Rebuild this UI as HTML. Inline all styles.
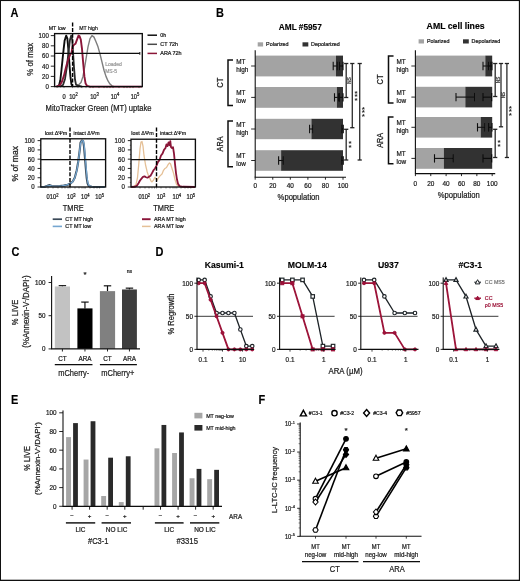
<!DOCTYPE html>
<html><head><meta charset="utf-8"><title>Figure</title>
<style>
html,body{margin:0;padding:0;background:#fff;}
body{width:520px;height:581px;overflow:hidden;position:relative;font-family:'Liberation Sans', sans-serif;}
svg{display:block;position:absolute;left:0;top:0;}
svg text{font-family:"Liberation Sans",sans-serif;}
</style></head><body>
<svg width="520" height="581" viewBox="0 0 520 581">
<defs><filter id="soft" x="0" y="0" width="520" height="581" filterUnits="userSpaceOnUse"><feGaussianBlur stdDeviation="0.38"/></filter></defs>
<rect x="0" y="0" width="520" height="581" fill="#ffffff"/>
<g filter="url(#soft)">
<text transform="translate(10.50,16.90) scale(0.9,1)" font-size="12.2" text-anchor="start" font-weight="bold" fill="#000" stroke="#000" stroke-width="0.15" >A</text>
<text transform="translate(216.00,16.80) scale(0.9,1)" font-size="12.2" text-anchor="start" font-weight="bold" fill="#000" stroke="#000" stroke-width="0.15" >B</text>
<text transform="translate(11.50,256.00) scale(0.9,1)" font-size="12.2" text-anchor="start" font-weight="bold" fill="#000" stroke="#000" stroke-width="0.15" >C</text>
<text transform="translate(155.50,256.00) scale(0.9,1)" font-size="12.2" text-anchor="start" font-weight="bold" fill="#000" stroke="#000" stroke-width="0.15" >D</text>
<text transform="translate(11.00,404.30) scale(0.9,1)" font-size="12.2" text-anchor="start" font-weight="bold" fill="#000" stroke="#000" stroke-width="0.15" >E</text>
<text transform="translate(258.50,404.30) scale(0.9,1)" font-size="12.2" text-anchor="start" font-weight="bold" fill="#000" stroke="#000" stroke-width="0.15" >F</text>
<polyline points="74.00,86.60 78.00,85.58 81.00,82.52 83.00,76.40 85.00,65.18 86.50,56.00 88.00,46.82 90.00,38.66 92.00,35.60 94.00,37.13 96.00,41.72 98.00,46.82 100.00,53.96 102.00,62.12 104.00,70.28 106.00,76.40 108.00,80.99 110.00,84.05 112.00,85.83 114.00,86.60" fill="none" stroke="#7d7d7d" stroke-width="1.4" stroke-linejoin="round" />
<polyline points="57.00,86.60 59.00,85.58 60.30,80.48 61.60,68.75 63.00,54.98 64.60,40.70 66.20,35.60 67.40,38.66 68.40,49.88 69.40,63.65 70.40,76.40 71.40,84.05 72.60,86.60" fill="none" stroke="#111" stroke-width="1.9" stroke-linejoin="round" />
<polyline points="60.00,86.60 63.00,85.07 65.00,78.95 67.00,66.20 68.50,51.92 70.00,39.68 71.20,35.60 72.20,39.68 73.00,51.92 74.00,67.22 75.00,79.46 76.00,84.56 78.00,85.58 82.00,86.60" fill="none" stroke="#2a2a2a" stroke-width="1.8" stroke-linejoin="round" />
<polyline points="56.00,86.60 58.00,86.09 60.00,85.07 62.00,81.50 64.00,75.38 66.00,67.22 68.00,60.08 70.00,54.98 71.50,52.94 72.50,46.82 74.00,44.78 75.50,43.76 77.00,39.68 78.50,35.60 79.50,36.11 80.80,39.68 82.00,48.86 83.20,63.14 84.40,76.40 85.60,83.54 87.00,85.83 90.00,86.60 142.00,86.60" fill="none" stroke="#8a1538" stroke-width="1.9" stroke-linejoin="round" />
<rect x="54.6" y="33.6" width="87.70000000000002" height="52.99999999999999" fill="none" stroke="#111" stroke-width="1.35"/>
<line x1="54.60" y1="53.40" x2="139.80" y2="53.40" stroke="#111" stroke-width="1.25" />
<line x1="139.80" y1="52.00" x2="139.80" y2="54.80" stroke="#111" stroke-width="1.0" />
<line x1="72.60" y1="22.50" x2="72.60" y2="86.60" stroke="#000" stroke-width="1.4" stroke-dasharray="4 1.6"/>
<text transform="translate(57.20,29.60)" font-size="5.6" text-anchor="middle" font-weight="normal" fill="#1a1a1a" stroke="#1a1a1a" stroke-width="0.22" textLength="17" lengthAdjust="spacingAndGlyphs" >MT low</text>
<text transform="translate(88.50,29.60)" font-size="5.6" text-anchor="middle" font-weight="normal" fill="#1a1a1a" stroke="#1a1a1a" stroke-width="0.22" textLength="18.5" lengthAdjust="spacingAndGlyphs" >MT high</text>
<line x1="50.80" y1="86.60" x2="54.60" y2="86.60" stroke="#111" stroke-width="0.9" />
<text transform="translate(48.80,89.00) scale(0.9,1)" font-size="6.8" text-anchor="end" font-weight="normal" fill="#1a1a1a" stroke="#1a1a1a" stroke-width="0.22" >0</text>
<line x1="50.80" y1="76.40" x2="54.60" y2="76.40" stroke="#111" stroke-width="0.9" />
<text transform="translate(48.80,78.80) scale(0.9,1)" font-size="6.8" text-anchor="end" font-weight="normal" fill="#1a1a1a" stroke="#1a1a1a" stroke-width="0.22" >20</text>
<line x1="50.80" y1="66.20" x2="54.60" y2="66.20" stroke="#111" stroke-width="0.9" />
<text transform="translate(48.80,68.60) scale(0.9,1)" font-size="6.8" text-anchor="end" font-weight="normal" fill="#1a1a1a" stroke="#1a1a1a" stroke-width="0.22" >40</text>
<line x1="50.80" y1="56.00" x2="54.60" y2="56.00" stroke="#111" stroke-width="0.9" />
<text transform="translate(48.80,58.40) scale(0.9,1)" font-size="6.8" text-anchor="end" font-weight="normal" fill="#1a1a1a" stroke="#1a1a1a" stroke-width="0.22" >60</text>
<line x1="50.80" y1="45.80" x2="54.60" y2="45.80" stroke="#111" stroke-width="0.9" />
<text transform="translate(48.80,48.20) scale(0.9,1)" font-size="6.8" text-anchor="end" font-weight="normal" fill="#1a1a1a" stroke="#1a1a1a" stroke-width="0.22" >80</text>
<line x1="50.80" y1="35.60" x2="54.60" y2="35.60" stroke="#111" stroke-width="0.9" />
<text transform="translate(48.80,38.00) scale(0.9,1)" font-size="6.8" text-anchor="end" font-weight="normal" fill="#1a1a1a" stroke="#1a1a1a" stroke-width="0.22" >100</text>
<text transform="translate(64.00,98.60) scale(0.86,1)" font-size="6.7" text-anchor="middle" font-weight="normal" fill="#1a1a1a" stroke="#1a1a1a" stroke-width="0.22" >0</text>
<text transform="translate(73.50,98.60) scale(0.86,1)" font-size="6.7" text-anchor="middle" font-weight="normal" fill="#1a1a1a" stroke="#1a1a1a" stroke-width="0.22" >10<tspan dy="-2.5" font-size="0.72em">2</tspan></text>
<text transform="translate(94.50,98.60) scale(0.86,1)" font-size="6.7" text-anchor="middle" font-weight="normal" fill="#1a1a1a" stroke="#1a1a1a" stroke-width="0.22" >10<tspan dy="-2.5" font-size="0.72em">3</tspan></text>
<text transform="translate(115.00,98.60) scale(0.86,1)" font-size="6.7" text-anchor="middle" font-weight="normal" fill="#1a1a1a" stroke="#1a1a1a" stroke-width="0.22" >10<tspan dy="-2.5" font-size="0.72em">4</tspan></text>
<text transform="translate(135.00,98.60) scale(0.86,1)" font-size="6.7" text-anchor="middle" font-weight="normal" fill="#1a1a1a" stroke="#1a1a1a" stroke-width="0.22" >10<tspan dy="-2.5" font-size="0.72em">5</tspan></text>
<line x1="64.00" y1="86.60" x2="64.00" y2="88.10" stroke="#111" stroke-width="0.5" />
<line x1="72.60" y1="86.60" x2="72.60" y2="88.10" stroke="#111" stroke-width="0.5" />
<line x1="78.00" y1="86.60" x2="78.00" y2="88.10" stroke="#111" stroke-width="0.5" />
<line x1="82.00" y1="86.60" x2="82.00" y2="88.10" stroke="#111" stroke-width="0.5" />
<line x1="86.00" y1="86.60" x2="86.00" y2="88.10" stroke="#111" stroke-width="0.5" />
<line x1="90.00" y1="86.60" x2="90.00" y2="88.10" stroke="#111" stroke-width="0.5" />
<line x1="93.00" y1="86.60" x2="93.00" y2="88.10" stroke="#111" stroke-width="0.5" />
<line x1="99.00" y1="86.60" x2="99.00" y2="88.10" stroke="#111" stroke-width="0.5" />
<line x1="104.00" y1="86.60" x2="104.00" y2="88.10" stroke="#111" stroke-width="0.5" />
<line x1="107.00" y1="86.60" x2="107.00" y2="88.10" stroke="#111" stroke-width="0.5" />
<line x1="110.00" y1="86.60" x2="110.00" y2="88.10" stroke="#111" stroke-width="0.5" />
<line x1="113.00" y1="86.60" x2="113.00" y2="88.10" stroke="#111" stroke-width="0.5" />
<line x1="119.00" y1="86.60" x2="119.00" y2="88.10" stroke="#111" stroke-width="0.5" />
<line x1="124.00" y1="86.60" x2="124.00" y2="88.10" stroke="#111" stroke-width="0.5" />
<line x1="127.00" y1="86.60" x2="127.00" y2="88.10" stroke="#111" stroke-width="0.5" />
<line x1="130.00" y1="86.60" x2="130.00" y2="88.10" stroke="#111" stroke-width="0.5" />
<line x1="133.00" y1="86.60" x2="133.00" y2="88.10" stroke="#111" stroke-width="0.5" />
<line x1="139.00" y1="86.60" x2="139.00" y2="88.10" stroke="#111" stroke-width="0.5" />
<text transform="translate(98.60,111.00)" font-size="8.8" text-anchor="middle" font-weight="normal" fill="#1a1a1a" stroke="#1a1a1a" stroke-width="0.22" textLength="106" lengthAdjust="spacingAndGlyphs" >MitoTracker Green (MT) uptake</text>
<text transform="translate(32.80,59.30) rotate(-90)" font-size="8.6" text-anchor="middle" font-weight="normal" fill="#1a1a1a" stroke="#1a1a1a" stroke-width="0.22" textLength="33" lengthAdjust="spacingAndGlyphs" >% of max</text>
<text transform="translate(105.20,66.30)" font-size="5" text-anchor="start" font-weight="normal" fill="#9a9a9a" stroke="#9a9a9a" stroke-width="0.22" >Loaded</text>
<text transform="translate(105.20,72.60)" font-size="5" text-anchor="start" font-weight="normal" fill="#9a9a9a" stroke="#9a9a9a" stroke-width="0.22" >MS-5</text>
<line x1="147.50" y1="35.20" x2="157.00" y2="35.20" stroke="#111" stroke-width="1.5" />
<text transform="translate(160.30,37.10)" font-size="5.4" text-anchor="start" font-weight="normal" fill="#1a1a1a" stroke="#1a1a1a" stroke-width="0.22" >0h</text>
<line x1="147.50" y1="44.30" x2="157.00" y2="44.30" stroke="#4a4a4a" stroke-width="1.5" />
<text transform="translate(160.30,46.20)" font-size="5.4" text-anchor="start" font-weight="normal" fill="#1a1a1a" stroke="#1a1a1a" stroke-width="0.22" >CT 72h</text>
<line x1="147.50" y1="53.40" x2="157.00" y2="53.40" stroke="#8a1538" stroke-width="1.5" />
<text transform="translate(160.30,55.30)" font-size="5.4" text-anchor="start" font-weight="normal" fill="#1a1a1a" stroke="#1a1a1a" stroke-width="0.22" >ARA 72h</text>
<polyline points="40.75,187.00 44.75,186.77 47.75,185.61 49.75,185.14 51.75,186.07 55.75,186.30 59.75,186.07 63.75,185.61 67.75,184.68 70.75,183.29 72.75,181.43 74.75,177.72 76.75,170.30 78.25,161.48 79.75,149.88 80.55,142.46 81.75,140.60 83.15,141.06 83.95,146.17 84.85,156.38 85.75,167.51 86.65,177.72 87.55,183.29 88.75,186.07 91.75,186.77 104.75,187.00" fill="none" stroke="#3b4a58" stroke-width="2.1" stroke-linejoin="round" />
<polyline points="41.00,187.00 45.00,186.54 48.00,185.84 50.00,185.61 53.00,186.30 58.00,186.30 62.00,185.84 66.00,185.14 70.00,183.75 72.50,181.90 74.50,178.65 76.50,172.15 78.00,163.80 79.30,153.59 80.40,144.31 81.60,141.06 83.20,140.60 84.20,145.24 85.20,155.45 86.10,166.58 87.00,176.79 87.90,182.82 89.20,185.84 93.00,186.77 105.00,187.00" fill="none" stroke="#74a6d0" stroke-width="1.25" stroke-linejoin="round" />
<rect x="40.8" y="138.8" width="64.8" height="48.19999999999999" fill="none" stroke="#111" stroke-width="1.35"/>
<line x1="40.80" y1="159.60" x2="105.60" y2="159.60" stroke="#111" stroke-width="1.25" />
<line x1="70.00" y1="127.50" x2="70.00" y2="187.00" stroke="#000" stroke-width="1.4" stroke-dasharray="4 1.6"/>
<line x1="37.60" y1="187.00" x2="40.80" y2="187.00" stroke="#111" stroke-width="0.9" />
<text transform="translate(34.60,189.40) scale(0.9,1)" font-size="6.8" text-anchor="end" font-weight="normal" fill="#1a1a1a" stroke="#1a1a1a" stroke-width="0.22" >0</text>
<line x1="37.60" y1="177.72" x2="40.80" y2="177.72" stroke="#111" stroke-width="0.9" />
<text transform="translate(34.60,180.12) scale(0.9,1)" font-size="6.8" text-anchor="end" font-weight="normal" fill="#1a1a1a" stroke="#1a1a1a" stroke-width="0.22" >20</text>
<line x1="37.60" y1="168.44" x2="40.80" y2="168.44" stroke="#111" stroke-width="0.9" />
<text transform="translate(34.60,170.84) scale(0.9,1)" font-size="6.8" text-anchor="end" font-weight="normal" fill="#1a1a1a" stroke="#1a1a1a" stroke-width="0.22" >40</text>
<line x1="37.60" y1="159.16" x2="40.80" y2="159.16" stroke="#111" stroke-width="0.9" />
<text transform="translate(34.60,161.56) scale(0.9,1)" font-size="6.8" text-anchor="end" font-weight="normal" fill="#1a1a1a" stroke="#1a1a1a" stroke-width="0.22" >60</text>
<line x1="37.60" y1="149.88" x2="40.80" y2="149.88" stroke="#111" stroke-width="0.9" />
<text transform="translate(34.60,152.28) scale(0.9,1)" font-size="6.8" text-anchor="end" font-weight="normal" fill="#1a1a1a" stroke="#1a1a1a" stroke-width="0.22" >80</text>
<line x1="37.60" y1="140.60" x2="40.80" y2="140.60" stroke="#111" stroke-width="0.9" />
<text transform="translate(34.60,143.00) scale(0.9,1)" font-size="6.8" text-anchor="end" font-weight="normal" fill="#1a1a1a" stroke="#1a1a1a" stroke-width="0.22" >100</text>
<line x1="39.60" y1="182.36" x2="40.80" y2="182.36" stroke="#111" stroke-width="0.5" />
<line x1="39.60" y1="173.08" x2="40.80" y2="173.08" stroke="#111" stroke-width="0.5" />
<line x1="39.60" y1="163.80" x2="40.80" y2="163.80" stroke="#111" stroke-width="0.5" />
<line x1="39.60" y1="154.52" x2="40.80" y2="154.52" stroke="#111" stroke-width="0.5" />
<line x1="39.60" y1="145.24" x2="40.80" y2="145.24" stroke="#111" stroke-width="0.5" />
<text transform="translate(48.00,199.40) scale(0.86,1)" font-size="6.7" text-anchor="middle" font-weight="normal" fill="#1a1a1a" stroke="#1a1a1a" stroke-width="0.22" >0</text>
<text transform="translate(54.20,199.40) scale(0.86,1)" font-size="6.7" text-anchor="middle" font-weight="normal" fill="#1a1a1a" stroke="#1a1a1a" stroke-width="0.22" >10<tspan dy="-2.5" font-size="0.72em">2</tspan></text>
<text transform="translate(71.30,199.40) scale(0.86,1)" font-size="6.7" text-anchor="middle" font-weight="normal" fill="#1a1a1a" stroke="#1a1a1a" stroke-width="0.22" >10<tspan dy="-2.5" font-size="0.72em">3</tspan></text>
<text transform="translate(85.30,199.40) scale(0.86,1)" font-size="6.7" text-anchor="middle" font-weight="normal" fill="#1a1a1a" stroke="#1a1a1a" stroke-width="0.22" >10<tspan dy="-2.5" font-size="0.72em">4</tspan></text>
<text transform="translate(99.60,199.40) scale(0.86,1)" font-size="6.7" text-anchor="middle" font-weight="normal" fill="#1a1a1a" stroke="#1a1a1a" stroke-width="0.22" >10<tspan dy="-2.5" font-size="0.72em">5</tspan></text>
<line x1="48.00" y1="187.00" x2="48.00" y2="188.50" stroke="#111" stroke-width="0.5" />
<line x1="53.00" y1="187.00" x2="53.00" y2="188.50" stroke="#111" stroke-width="0.5" />
<line x1="58.00" y1="187.00" x2="58.00" y2="188.50" stroke="#111" stroke-width="0.5" />
<line x1="62.00" y1="187.00" x2="62.00" y2="188.50" stroke="#111" stroke-width="0.5" />
<line x1="65.00" y1="187.00" x2="65.00" y2="188.50" stroke="#111" stroke-width="0.5" />
<line x1="68.00" y1="187.00" x2="68.00" y2="188.50" stroke="#111" stroke-width="0.5" />
<line x1="70.00" y1="187.00" x2="70.00" y2="188.50" stroke="#111" stroke-width="0.5" />
<line x1="75.00" y1="187.00" x2="75.00" y2="188.50" stroke="#111" stroke-width="0.5" />
<line x1="79.00" y1="187.00" x2="79.00" y2="188.50" stroke="#111" stroke-width="0.5" />
<line x1="82.00" y1="187.00" x2="82.00" y2="188.50" stroke="#111" stroke-width="0.5" />
<line x1="84.00" y1="187.00" x2="84.00" y2="188.50" stroke="#111" stroke-width="0.5" />
<line x1="85.30" y1="187.00" x2="85.30" y2="188.50" stroke="#111" stroke-width="0.5" />
<line x1="90.00" y1="187.00" x2="90.00" y2="188.50" stroke="#111" stroke-width="0.5" />
<line x1="94.00" y1="187.00" x2="94.00" y2="188.50" stroke="#111" stroke-width="0.5" />
<line x1="97.00" y1="187.00" x2="97.00" y2="188.50" stroke="#111" stroke-width="0.5" />
<line x1="99.60" y1="187.00" x2="99.60" y2="188.50" stroke="#111" stroke-width="0.5" />
<text transform="translate(73.20,211.20)" font-size="8.8" text-anchor="middle" font-weight="normal" fill="#1a1a1a" stroke="#1a1a1a" stroke-width="0.22" textLength="21" lengthAdjust="spacingAndGlyphs" >TMRE</text>
<text transform="translate(56.00,135.00)" font-size="5.2" text-anchor="middle" font-weight="normal" fill="#1a1a1a" stroke="#1a1a1a" stroke-width="0.22" textLength="22.5" lengthAdjust="spacingAndGlyphs" >lost ΔΨm</text>
<text transform="translate(86.50,135.00)" font-size="5.2" text-anchor="middle" font-weight="normal" fill="#1a1a1a" stroke="#1a1a1a" stroke-width="0.22" textLength="26" lengthAdjust="spacingAndGlyphs" >intact ΔΨm</text>
<text transform="translate(18.00,163.80) rotate(-90)" font-size="8.6" text-anchor="middle" font-weight="normal" fill="#1a1a1a" stroke="#1a1a1a" stroke-width="0.22" textLength="35.5" lengthAdjust="spacingAndGlyphs" >% of max</text>
<line x1="52.70" y1="219.20" x2="62.00" y2="219.20" stroke="#3b4a58" stroke-width="1.7" />
<text transform="translate(65.30,221.10)" font-size="5.4" text-anchor="start" font-weight="normal" fill="#1a1a1a" stroke="#1a1a1a" stroke-width="0.22" >CT MT high</text>
<line x1="52.70" y1="226.40" x2="62.00" y2="226.40" stroke="#74a6d0" stroke-width="1.6" />
<text transform="translate(65.30,228.30)" font-size="5.4" text-anchor="start" font-weight="normal" fill="#1a1a1a" stroke="#1a1a1a" stroke-width="0.22" >CT MT low</text>
<polyline points="131.00,187.00 134.00,186.54 136.00,184.68 137.50,177.72 138.80,163.80 140.00,148.95 141.00,141.99 142.00,141.53 143.00,146.17 144.00,155.45 145.50,164.73 147.00,171.22 148.50,175.86 150.00,178.65 151.00,180.97 152.00,181.90 153.50,180.04 155.00,177.26 156.00,178.65 157.00,180.50 158.50,177.72 160.00,175.86 162.00,174.01 163.50,170.30 165.00,168.44 166.50,167.51 168.00,164.73 169.50,162.87 170.50,163.80 172.00,168.44 173.50,173.08 175.00,179.58 176.50,184.22 178.00,186.07 181.00,186.54 186.00,186.77 195.00,187.00" fill="none" stroke="#e5c097" stroke-width="1.3" stroke-linejoin="round" />
<polyline points="131.00,187.00 135.00,186.77 137.00,185.61 138.50,183.29 140.00,180.50 141.50,178.65 143.00,176.79 144.50,176.33 146.00,177.26 147.50,177.72 149.00,176.79 150.50,175.86 152.00,173.08 153.50,170.30 155.00,168.44 156.50,165.66 158.00,161.94 159.50,160.09 161.00,155.45 162.50,153.59 164.00,149.88 165.50,148.02 166.50,144.31 167.50,146.17 168.50,142.46 169.50,145.24 170.30,141.06 171.00,147.10 172.00,148.02 173.00,147.10 174.00,153.59 175.00,163.80 176.00,173.08 177.00,179.58 178.00,183.75 179.50,186.07 183.00,186.77 195.00,187.00" fill="none" stroke="#8a1538" stroke-width="1.8" stroke-linejoin="round" />
<rect x="131.0" y="139.2" width="64.4" height="47.80000000000001" fill="none" stroke="#111" stroke-width="1.35"/>
<line x1="131.00" y1="159.60" x2="195.40" y2="159.60" stroke="#111" stroke-width="1.25" />
<line x1="156.50" y1="127.50" x2="156.50" y2="187.00" stroke="#000" stroke-width="1.4" stroke-dasharray="4 1.6"/>
<line x1="127.80" y1="187.00" x2="131.00" y2="187.00" stroke="#111" stroke-width="0.9" />
<text transform="translate(124.80,189.40) scale(0.9,1)" font-size="6.8" text-anchor="end" font-weight="normal" fill="#1a1a1a" stroke="#1a1a1a" stroke-width="0.22" >0</text>
<line x1="127.80" y1="177.72" x2="131.00" y2="177.72" stroke="#111" stroke-width="0.9" />
<text transform="translate(124.80,180.12) scale(0.9,1)" font-size="6.8" text-anchor="end" font-weight="normal" fill="#1a1a1a" stroke="#1a1a1a" stroke-width="0.22" >20</text>
<line x1="127.80" y1="168.44" x2="131.00" y2="168.44" stroke="#111" stroke-width="0.9" />
<text transform="translate(124.80,170.84) scale(0.9,1)" font-size="6.8" text-anchor="end" font-weight="normal" fill="#1a1a1a" stroke="#1a1a1a" stroke-width="0.22" >40</text>
<line x1="127.80" y1="159.16" x2="131.00" y2="159.16" stroke="#111" stroke-width="0.9" />
<text transform="translate(124.80,161.56) scale(0.9,1)" font-size="6.8" text-anchor="end" font-weight="normal" fill="#1a1a1a" stroke="#1a1a1a" stroke-width="0.22" >60</text>
<line x1="127.80" y1="149.88" x2="131.00" y2="149.88" stroke="#111" stroke-width="0.9" />
<text transform="translate(124.80,152.28) scale(0.9,1)" font-size="6.8" text-anchor="end" font-weight="normal" fill="#1a1a1a" stroke="#1a1a1a" stroke-width="0.22" >80</text>
<line x1="127.80" y1="140.60" x2="131.00" y2="140.60" stroke="#111" stroke-width="0.9" />
<text transform="translate(124.80,143.00) scale(0.9,1)" font-size="6.8" text-anchor="end" font-weight="normal" fill="#1a1a1a" stroke="#1a1a1a" stroke-width="0.22" >100</text>
<line x1="129.80" y1="182.36" x2="131.00" y2="182.36" stroke="#111" stroke-width="0.5" />
<line x1="129.80" y1="173.08" x2="131.00" y2="173.08" stroke="#111" stroke-width="0.5" />
<line x1="129.80" y1="163.80" x2="131.00" y2="163.80" stroke="#111" stroke-width="0.5" />
<line x1="129.80" y1="154.52" x2="131.00" y2="154.52" stroke="#111" stroke-width="0.5" />
<line x1="129.80" y1="145.24" x2="131.00" y2="145.24" stroke="#111" stroke-width="0.5" />
<text transform="translate(140.00,199.40) scale(0.86,1)" font-size="6.7" text-anchor="middle" font-weight="normal" fill="#1a1a1a" stroke="#1a1a1a" stroke-width="0.22" >0</text>
<text transform="translate(145.80,199.40) scale(0.86,1)" font-size="6.7" text-anchor="middle" font-weight="normal" fill="#1a1a1a" stroke="#1a1a1a" stroke-width="0.22" >10<tspan dy="-2.5" font-size="0.72em">2</tspan></text>
<text transform="translate(161.00,199.40) scale(0.86,1)" font-size="6.7" text-anchor="middle" font-weight="normal" fill="#1a1a1a" stroke="#1a1a1a" stroke-width="0.22" >10<tspan dy="-2.5" font-size="0.72em">3</tspan></text>
<text transform="translate(176.80,199.40) scale(0.86,1)" font-size="6.7" text-anchor="middle" font-weight="normal" fill="#1a1a1a" stroke="#1a1a1a" stroke-width="0.22" >10<tspan dy="-2.5" font-size="0.72em">4</tspan></text>
<text transform="translate(190.80,199.40) scale(0.86,1)" font-size="6.7" text-anchor="middle" font-weight="normal" fill="#1a1a1a" stroke="#1a1a1a" stroke-width="0.22" >10<tspan dy="-2.5" font-size="0.72em">5</tspan></text>
<line x1="140.00" y1="187.00" x2="140.00" y2="188.50" stroke="#111" stroke-width="0.5" />
<line x1="145.00" y1="187.00" x2="145.00" y2="188.50" stroke="#111" stroke-width="0.5" />
<line x1="149.00" y1="187.00" x2="149.00" y2="188.50" stroke="#111" stroke-width="0.5" />
<line x1="152.00" y1="187.00" x2="152.00" y2="188.50" stroke="#111" stroke-width="0.5" />
<line x1="154.50" y1="187.00" x2="154.50" y2="188.50" stroke="#111" stroke-width="0.5" />
<line x1="156.50" y1="187.00" x2="156.50" y2="188.50" stroke="#111" stroke-width="0.5" />
<line x1="161.00" y1="187.00" x2="161.00" y2="188.50" stroke="#111" stroke-width="0.5" />
<line x1="166.00" y1="187.00" x2="166.00" y2="188.50" stroke="#111" stroke-width="0.5" />
<line x1="170.00" y1="187.00" x2="170.00" y2="188.50" stroke="#111" stroke-width="0.5" />
<line x1="173.00" y1="187.00" x2="173.00" y2="188.50" stroke="#111" stroke-width="0.5" />
<line x1="175.00" y1="187.00" x2="175.00" y2="188.50" stroke="#111" stroke-width="0.5" />
<line x1="176.80" y1="187.00" x2="176.80" y2="188.50" stroke="#111" stroke-width="0.5" />
<line x1="181.00" y1="187.00" x2="181.00" y2="188.50" stroke="#111" stroke-width="0.5" />
<line x1="185.00" y1="187.00" x2="185.00" y2="188.50" stroke="#111" stroke-width="0.5" />
<line x1="188.00" y1="187.00" x2="188.00" y2="188.50" stroke="#111" stroke-width="0.5" />
<line x1="190.80" y1="187.00" x2="190.80" y2="188.50" stroke="#111" stroke-width="0.5" />
<text transform="translate(163.80,211.20)" font-size="8.8" text-anchor="middle" font-weight="normal" fill="#1a1a1a" stroke="#1a1a1a" stroke-width="0.22" textLength="21" lengthAdjust="spacingAndGlyphs" >TMRE</text>
<text transform="translate(142.50,135.00)" font-size="5.2" text-anchor="middle" font-weight="normal" fill="#1a1a1a" stroke="#1a1a1a" stroke-width="0.22" textLength="22.5" lengthAdjust="spacingAndGlyphs" >lost ΔΨm</text>
<text transform="translate(173.00,135.00)" font-size="5.2" text-anchor="middle" font-weight="normal" fill="#1a1a1a" stroke="#1a1a1a" stroke-width="0.22" textLength="26" lengthAdjust="spacingAndGlyphs" >intact ΔΨm</text>
<line x1="142.00" y1="219.20" x2="150.60" y2="219.20" stroke="#8a1538" stroke-width="1.9" />
<text transform="translate(154.00,221.10)" font-size="5.4" text-anchor="start" font-weight="normal" fill="#1a1a1a" stroke="#1a1a1a" stroke-width="0.22" >ARA MT high</text>
<line x1="142.00" y1="226.40" x2="150.60" y2="226.40" stroke="#e5c097" stroke-width="1.5" />
<text transform="translate(154.00,228.30)" font-size="5.4" text-anchor="start" font-weight="normal" fill="#1a1a1a" stroke="#1a1a1a" stroke-width="0.22" >ARA MT low</text>
<rect x="255.20" y="55.60" width="80.78" height="20.80" fill="#a3a3a3" />
<rect x="335.98" y="55.60" width="7.02" height="20.80" fill="#333333" />
<line x1="333.20" y1="66.00" x2="337.20" y2="66.00" stroke="#111" stroke-width="1.1" />
<line x1="333.20" y1="61.80" x2="333.20" y2="70.20" stroke="#111" stroke-width="1.1" />
<line x1="337.20" y1="61.80" x2="337.20" y2="70.20" stroke="#111" stroke-width="1.1" />
<line x1="339.50" y1="66.00" x2="343.00" y2="66.00" stroke="#0a0a0a" stroke-width="1.1" />
<line x1="339.50" y1="61.80" x2="339.50" y2="70.20" stroke="#0a0a0a" stroke-width="1.1" />
<line x1="343.00" y1="61.80" x2="343.00" y2="70.20" stroke="#0a0a0a" stroke-width="1.1" />
<line x1="251.20" y1="66.00" x2="255.20" y2="66.00" stroke="#111" stroke-width="0.9" />
<rect x="255.20" y="87.00" width="81.65" height="20.80" fill="#a3a3a3" />
<rect x="336.85" y="87.00" width="6.15" height="20.80" fill="#333333" />
<line x1="334.50" y1="97.40" x2="338.60" y2="97.40" stroke="#111" stroke-width="1.1" />
<line x1="334.50" y1="93.20" x2="334.50" y2="101.60" stroke="#111" stroke-width="1.1" />
<line x1="338.60" y1="93.20" x2="338.60" y2="101.60" stroke="#111" stroke-width="1.1" />
<line x1="339.50" y1="97.40" x2="343.00" y2="97.40" stroke="#0a0a0a" stroke-width="1.1" />
<line x1="339.50" y1="93.20" x2="339.50" y2="101.60" stroke="#0a0a0a" stroke-width="1.1" />
<line x1="343.00" y1="93.20" x2="343.00" y2="101.60" stroke="#0a0a0a" stroke-width="1.1" />
<line x1="251.20" y1="97.40" x2="255.20" y2="97.40" stroke="#111" stroke-width="0.9" />
<rect x="255.20" y="118.80" width="56.19" height="20.40" fill="#a3a3a3" />
<rect x="311.39" y="118.80" width="31.61" height="20.40" fill="#333333" />
<line x1="309.60" y1="129.00" x2="312.60" y2="129.00" stroke="#111" stroke-width="1.1" />
<line x1="309.60" y1="124.80" x2="309.60" y2="133.20" stroke="#111" stroke-width="1.1" />
<line x1="312.60" y1="124.80" x2="312.60" y2="133.20" stroke="#111" stroke-width="1.1" />
<line x1="341.80" y1="129.00" x2="343.30" y2="129.00" stroke="#0a0a0a" stroke-width="1.1" />
<line x1="341.80" y1="124.80" x2="341.80" y2="133.20" stroke="#0a0a0a" stroke-width="1.1" />
<line x1="343.30" y1="124.80" x2="343.30" y2="133.20" stroke="#0a0a0a" stroke-width="1.1" />
<line x1="251.20" y1="129.00" x2="255.20" y2="129.00" stroke="#111" stroke-width="0.9" />
<rect x="255.20" y="150.20" width="25.90" height="20.60" fill="#a3a3a3" />
<rect x="281.10" y="150.20" width="61.90" height="20.60" fill="#333333" />
<line x1="278.60" y1="160.50" x2="283.20" y2="160.50" stroke="#111" stroke-width="1.1" />
<line x1="278.60" y1="156.30" x2="278.60" y2="164.70" stroke="#111" stroke-width="1.1" />
<line x1="283.20" y1="156.30" x2="283.20" y2="164.70" stroke="#111" stroke-width="1.1" />
<line x1="341.80" y1="160.50" x2="343.30" y2="160.50" stroke="#0a0a0a" stroke-width="1.1" />
<line x1="341.80" y1="156.30" x2="341.80" y2="164.70" stroke="#0a0a0a" stroke-width="1.1" />
<line x1="343.30" y1="156.30" x2="343.30" y2="164.70" stroke="#0a0a0a" stroke-width="1.1" />
<line x1="251.20" y1="160.50" x2="255.20" y2="160.50" stroke="#111" stroke-width="0.9" />
<line x1="255.20" y1="50.30" x2="255.20" y2="177.20" stroke="#111" stroke-width="1.1" />
<line x1="254.70" y1="177.20" x2="346.00" y2="177.20" stroke="#111" stroke-width="1.1" />
<line x1="255.20" y1="177.20" x2="255.20" y2="179.70" stroke="#111" stroke-width="0.9" />
<text transform="translate(255.20,188.40) scale(0.93,1)" font-size="6.9" text-anchor="middle" font-weight="normal" fill="#1a1a1a" stroke="#1a1a1a" stroke-width="0.22" >0</text>
<line x1="272.76" y1="177.20" x2="272.76" y2="179.70" stroke="#111" stroke-width="0.9" />
<text transform="translate(272.76,188.40) scale(0.93,1)" font-size="6.9" text-anchor="middle" font-weight="normal" fill="#1a1a1a" stroke="#1a1a1a" stroke-width="0.22" >20</text>
<line x1="290.32" y1="177.20" x2="290.32" y2="179.70" stroke="#111" stroke-width="0.9" />
<text transform="translate(290.32,188.40) scale(0.93,1)" font-size="6.9" text-anchor="middle" font-weight="normal" fill="#1a1a1a" stroke="#1a1a1a" stroke-width="0.22" >40</text>
<line x1="307.88" y1="177.20" x2="307.88" y2="179.70" stroke="#111" stroke-width="0.9" />
<text transform="translate(307.88,188.40) scale(0.93,1)" font-size="6.9" text-anchor="middle" font-weight="normal" fill="#1a1a1a" stroke="#1a1a1a" stroke-width="0.22" >60</text>
<line x1="325.44" y1="177.20" x2="325.44" y2="179.70" stroke="#111" stroke-width="0.9" />
<text transform="translate(325.44,188.40) scale(0.93,1)" font-size="6.9" text-anchor="middle" font-weight="normal" fill="#1a1a1a" stroke="#1a1a1a" stroke-width="0.22" >80</text>
<line x1="343.00" y1="177.20" x2="343.00" y2="179.70" stroke="#111" stroke-width="0.9" />
<text transform="translate(343.00,188.40) scale(0.93,1)" font-size="6.9" text-anchor="middle" font-weight="normal" fill="#1a1a1a" stroke="#1a1a1a" stroke-width="0.22" >100</text>
<text transform="translate(298.60,199.50)" font-size="8.4" text-anchor="middle" font-weight="normal" fill="#1a1a1a" stroke="#1a1a1a" stroke-width="0.22" textLength="42" lengthAdjust="spacingAndGlyphs" >%population</text>
<text transform="translate(300.30,30.20)" font-size="8.4" text-anchor="middle" font-weight="bold" fill="#000" stroke="#000" stroke-width="0.15" textLength="43" lengthAdjust="spacingAndGlyphs" >AML #5957</text>
<rect x="257.70" y="42.30" width="5.40" height="4.20" fill="#a3a3a3" />
<text transform="translate(266.10,46.40)" font-size="5.4" text-anchor="start" font-weight="normal" fill="#1a1a1a" stroke="#1a1a1a" stroke-width="0.22" >Polarized</text>
<rect x="302.50" y="42.30" width="5.80" height="4.20" fill="#333333" />
<text transform="translate(311.10,46.40)" font-size="5.4" text-anchor="start" font-weight="normal" fill="#1a1a1a" stroke="#1a1a1a" stroke-width="0.22" >Depolarized</text>
<text transform="translate(236.30,63.70) scale(0.94,1)" font-size="6.8" text-anchor="start" font-weight="normal" fill="#1a1a1a" stroke="#1a1a1a" stroke-width="0.22" >MT</text>
<text transform="translate(236.30,71.90) scale(0.94,1)" font-size="6.8" text-anchor="start" font-weight="normal" fill="#1a1a1a" stroke="#1a1a1a" stroke-width="0.22" >high</text>
<text transform="translate(236.30,95.10) scale(0.94,1)" font-size="6.8" text-anchor="start" font-weight="normal" fill="#1a1a1a" stroke="#1a1a1a" stroke-width="0.22" >MT</text>
<text transform="translate(236.30,103.30) scale(0.94,1)" font-size="6.8" text-anchor="start" font-weight="normal" fill="#1a1a1a" stroke="#1a1a1a" stroke-width="0.22" >low</text>
<text transform="translate(236.30,126.70) scale(0.94,1)" font-size="6.8" text-anchor="start" font-weight="normal" fill="#1a1a1a" stroke="#1a1a1a" stroke-width="0.22" >MT</text>
<text transform="translate(236.30,134.90) scale(0.94,1)" font-size="6.8" text-anchor="start" font-weight="normal" fill="#1a1a1a" stroke="#1a1a1a" stroke-width="0.22" >high</text>
<text transform="translate(236.30,158.20) scale(0.94,1)" font-size="6.8" text-anchor="start" font-weight="normal" fill="#1a1a1a" stroke="#1a1a1a" stroke-width="0.22" >MT</text>
<text transform="translate(236.30,166.40) scale(0.94,1)" font-size="6.8" text-anchor="start" font-weight="normal" fill="#1a1a1a" stroke="#1a1a1a" stroke-width="0.22" >low</text>
<path d="M233.0,60.0 H228.0 V105.4 H233.0" fill="none" stroke="#111" stroke-width="1.5"/>
<path d="M233.0,121.0 H228.0 V166.8 H233.0" fill="none" stroke="#111" stroke-width="1.5"/>
<text transform="translate(222.80,82.70) rotate(-90)" font-size="8.4" text-anchor="middle" font-weight="normal" fill="#1a1a1a" stroke="#1a1a1a" stroke-width="0.22" textLength="10" lengthAdjust="spacingAndGlyphs" >CT</text>
<text transform="translate(222.80,143.90) rotate(-90)" font-size="8.4" text-anchor="middle" font-weight="normal" fill="#1a1a1a" stroke="#1a1a1a" stroke-width="0.22" textLength="15" lengthAdjust="spacingAndGlyphs" >ARA</text>
<line x1="346.20" y1="63.50" x2="346.20" y2="97.50" stroke="#333" stroke-width="1.35" />
<line x1="344.10" y1="63.50" x2="348.30" y2="63.50" stroke="#222" stroke-width="1.3" />
<line x1="344.10" y1="97.50" x2="348.30" y2="97.50" stroke="#222" stroke-width="1.3" />
<text transform="translate(350.80,80.50) rotate(-90)" font-size="4.6" text-anchor="middle" font-weight="normal" fill="#333" stroke="#333" stroke-width="0.22" >NS</text>
<line x1="352.30" y1="63.50" x2="352.30" y2="127.70" stroke="#333" stroke-width="1.35" />
<line x1="350.20" y1="63.50" x2="354.40" y2="63.50" stroke="#222" stroke-width="1.3" />
<line x1="350.20" y1="127.70" x2="354.40" y2="127.70" stroke="#222" stroke-width="1.3" />
<text x="356.00" y="95.60" font-size="8" font-weight="bold" text-anchor="middle" fill="#222">*</text>
<text x="356.00" y="99.20" font-size="8" font-weight="bold" text-anchor="middle" fill="#222">*</text>
<text x="356.00" y="102.80" font-size="8" font-weight="bold" text-anchor="middle" fill="#222">*</text>
<line x1="359.70" y1="63.50" x2="359.70" y2="160.00" stroke="#333" stroke-width="1.35" />
<line x1="357.60" y1="63.50" x2="361.80" y2="63.50" stroke="#222" stroke-width="1.3" />
<line x1="357.60" y1="160.00" x2="361.80" y2="160.00" stroke="#222" stroke-width="1.3" />
<text x="363.30" y="111.75" font-size="8" font-weight="bold" text-anchor="middle" fill="#222">*</text>
<text x="363.30" y="115.35" font-size="8" font-weight="bold" text-anchor="middle" fill="#222">*</text>
<text x="363.30" y="118.95" font-size="8" font-weight="bold" text-anchor="middle" fill="#222">*</text>
<line x1="346.20" y1="129.30" x2="346.20" y2="160.00" stroke="#333" stroke-width="1.35" />
<line x1="344.10" y1="129.30" x2="348.30" y2="129.30" stroke="#222" stroke-width="1.3" />
<line x1="344.10" y1="160.00" x2="348.30" y2="160.00" stroke="#222" stroke-width="1.3" />
<text x="350.00" y="146.45" font-size="8" font-weight="bold" text-anchor="middle" fill="#222">*</text>
<text x="350.00" y="150.05" font-size="8" font-weight="bold" text-anchor="middle" fill="#222">*</text>
<rect x="415.40" y="55.60" width="69.89" height="20.80" fill="#a3a3a3" />
<rect x="485.29" y="55.60" width="6.91" height="20.80" fill="#333333" />
<line x1="483.00" y1="66.00" x2="490.80" y2="66.00" stroke="#111" stroke-width="1.1" />
<line x1="483.00" y1="61.80" x2="483.00" y2="70.20" stroke="#111" stroke-width="1.1" />
<line x1="490.80" y1="61.80" x2="490.80" y2="70.20" stroke="#111" stroke-width="1.1" />
<line x1="488.50" y1="66.00" x2="492.00" y2="66.00" stroke="#0a0a0a" stroke-width="1.1" />
<line x1="488.50" y1="61.80" x2="488.50" y2="70.20" stroke="#0a0a0a" stroke-width="1.1" />
<line x1="492.00" y1="61.80" x2="492.00" y2="70.20" stroke="#0a0a0a" stroke-width="1.1" />
<line x1="411.40" y1="66.00" x2="415.40" y2="66.00" stroke="#111" stroke-width="0.9" />
<rect x="415.40" y="86.80" width="49.92" height="20.60" fill="#a3a3a3" />
<rect x="465.32" y="86.80" width="26.88" height="20.60" fill="#333333" />
<line x1="456.00" y1="97.10" x2="474.50" y2="97.10" stroke="#111" stroke-width="1.1" />
<line x1="456.00" y1="92.90" x2="456.00" y2="101.30" stroke="#111" stroke-width="1.1" />
<line x1="474.50" y1="92.90" x2="474.50" y2="101.30" stroke="#111" stroke-width="1.1" />
<line x1="483.00" y1="97.10" x2="491.70" y2="97.10" stroke="#0a0a0a" stroke-width="1.1" />
<line x1="483.00" y1="92.90" x2="483.00" y2="101.30" stroke="#0a0a0a" stroke-width="1.1" />
<line x1="491.70" y1="92.90" x2="491.70" y2="101.30" stroke="#0a0a0a" stroke-width="1.1" />
<line x1="411.40" y1="97.10" x2="415.40" y2="97.10" stroke="#111" stroke-width="0.9" />
<rect x="415.40" y="117.00" width="65.28" height="20.60" fill="#a3a3a3" />
<rect x="480.68" y="117.00" width="11.52" height="20.60" fill="#333333" />
<line x1="477.50" y1="127.30" x2="484.60" y2="127.30" stroke="#111" stroke-width="1.1" />
<line x1="477.50" y1="123.10" x2="477.50" y2="131.50" stroke="#111" stroke-width="1.1" />
<line x1="484.60" y1="123.10" x2="484.60" y2="131.50" stroke="#111" stroke-width="1.1" />
<line x1="488.60" y1="127.30" x2="492.00" y2="127.30" stroke="#0a0a0a" stroke-width="1.1" />
<line x1="488.60" y1="123.10" x2="488.60" y2="131.50" stroke="#0a0a0a" stroke-width="1.1" />
<line x1="492.00" y1="123.10" x2="492.00" y2="131.50" stroke="#0a0a0a" stroke-width="1.1" />
<line x1="411.40" y1="127.30" x2="415.40" y2="127.30" stroke="#111" stroke-width="0.9" />
<rect x="415.40" y="148.00" width="28.42" height="20.80" fill="#a3a3a3" />
<rect x="443.82" y="148.00" width="48.38" height="20.80" fill="#333333" />
<line x1="434.50" y1="158.40" x2="453.20" y2="158.40" stroke="#111" stroke-width="1.1" />
<line x1="434.50" y1="154.20" x2="434.50" y2="162.60" stroke="#111" stroke-width="1.1" />
<line x1="453.20" y1="154.20" x2="453.20" y2="162.60" stroke="#111" stroke-width="1.1" />
<line x1="483.00" y1="158.40" x2="491.70" y2="158.40" stroke="#0a0a0a" stroke-width="1.1" />
<line x1="483.00" y1="154.20" x2="483.00" y2="162.60" stroke="#0a0a0a" stroke-width="1.1" />
<line x1="491.70" y1="154.20" x2="491.70" y2="162.60" stroke="#0a0a0a" stroke-width="1.1" />
<line x1="411.40" y1="158.40" x2="415.40" y2="158.40" stroke="#111" stroke-width="0.9" />
<line x1="415.40" y1="50.30" x2="415.40" y2="173.60" stroke="#111" stroke-width="1.1" />
<line x1="414.90" y1="173.60" x2="495.20" y2="173.60" stroke="#111" stroke-width="1.1" />
<line x1="415.40" y1="173.60" x2="415.40" y2="176.10" stroke="#111" stroke-width="0.9" />
<text transform="translate(415.40,185.60) scale(0.93,1)" font-size="6.9" text-anchor="middle" font-weight="normal" fill="#1a1a1a" stroke="#1a1a1a" stroke-width="0.22" >0</text>
<line x1="430.76" y1="173.60" x2="430.76" y2="176.10" stroke="#111" stroke-width="0.9" />
<text transform="translate(430.76,185.60) scale(0.93,1)" font-size="6.9" text-anchor="middle" font-weight="normal" fill="#1a1a1a" stroke="#1a1a1a" stroke-width="0.22" >20</text>
<line x1="446.12" y1="173.60" x2="446.12" y2="176.10" stroke="#111" stroke-width="0.9" />
<text transform="translate(446.12,185.60) scale(0.93,1)" font-size="6.9" text-anchor="middle" font-weight="normal" fill="#1a1a1a" stroke="#1a1a1a" stroke-width="0.22" >40</text>
<line x1="461.48" y1="173.60" x2="461.48" y2="176.10" stroke="#111" stroke-width="0.9" />
<text transform="translate(461.48,185.60) scale(0.93,1)" font-size="6.9" text-anchor="middle" font-weight="normal" fill="#1a1a1a" stroke="#1a1a1a" stroke-width="0.22" >60</text>
<line x1="476.84" y1="173.60" x2="476.84" y2="176.10" stroke="#111" stroke-width="0.9" />
<text transform="translate(476.84,185.60) scale(0.93,1)" font-size="6.9" text-anchor="middle" font-weight="normal" fill="#1a1a1a" stroke="#1a1a1a" stroke-width="0.22" >80</text>
<line x1="492.20" y1="173.60" x2="492.20" y2="176.10" stroke="#111" stroke-width="0.9" />
<text transform="translate(492.20,185.60) scale(0.93,1)" font-size="6.9" text-anchor="middle" font-weight="normal" fill="#1a1a1a" stroke="#1a1a1a" stroke-width="0.22" >100</text>
<text transform="translate(458.80,197.60)" font-size="8.4" text-anchor="middle" font-weight="normal" fill="#1a1a1a" stroke="#1a1a1a" stroke-width="0.22" textLength="42" lengthAdjust="spacingAndGlyphs" >%population</text>
<text transform="translate(455.60,29.00)" font-size="8.4" text-anchor="middle" font-weight="bold" fill="#000" stroke="#000" stroke-width="0.15" textLength="58" lengthAdjust="spacingAndGlyphs" >AML cell lines</text>
<rect x="418.60" y="39.30" width="5.40" height="4.20" fill="#a3a3a3" />
<text transform="translate(427.00,43.40)" font-size="5.4" text-anchor="start" font-weight="normal" fill="#1a1a1a" stroke="#1a1a1a" stroke-width="0.22" >Polarized</text>
<rect x="463.00" y="39.30" width="5.80" height="4.20" fill="#333333" />
<text transform="translate(471.60,43.40)" font-size="5.4" text-anchor="start" font-weight="normal" fill="#1a1a1a" stroke="#1a1a1a" stroke-width="0.22" >Depolarized</text>
<text transform="translate(396.50,63.70) scale(0.94,1)" font-size="6.8" text-anchor="start" font-weight="normal" fill="#1a1a1a" stroke="#1a1a1a" stroke-width="0.22" >MT</text>
<text transform="translate(396.50,71.90) scale(0.94,1)" font-size="6.8" text-anchor="start" font-weight="normal" fill="#1a1a1a" stroke="#1a1a1a" stroke-width="0.22" >high</text>
<text transform="translate(396.50,94.80) scale(0.94,1)" font-size="6.8" text-anchor="start" font-weight="normal" fill="#1a1a1a" stroke="#1a1a1a" stroke-width="0.22" >MT</text>
<text transform="translate(396.50,103.00) scale(0.94,1)" font-size="6.8" text-anchor="start" font-weight="normal" fill="#1a1a1a" stroke="#1a1a1a" stroke-width="0.22" >low</text>
<text transform="translate(396.50,125.00) scale(0.94,1)" font-size="6.8" text-anchor="start" font-weight="normal" fill="#1a1a1a" stroke="#1a1a1a" stroke-width="0.22" >MT</text>
<text transform="translate(396.50,133.20) scale(0.94,1)" font-size="6.8" text-anchor="start" font-weight="normal" fill="#1a1a1a" stroke="#1a1a1a" stroke-width="0.22" >high</text>
<text transform="translate(396.50,156.10) scale(0.94,1)" font-size="6.8" text-anchor="start" font-weight="normal" fill="#1a1a1a" stroke="#1a1a1a" stroke-width="0.22" >MT</text>
<text transform="translate(396.50,164.30) scale(0.94,1)" font-size="6.8" text-anchor="start" font-weight="normal" fill="#1a1a1a" stroke="#1a1a1a" stroke-width="0.22" >low</text>
<path d="M393.5,56.0 H388.5 V103.0 H393.5" fill="none" stroke="#111" stroke-width="1.5"/>
<path d="M393.5,117.0 H388.5 V163.7 H393.5" fill="none" stroke="#111" stroke-width="1.5"/>
<text transform="translate(382.80,79.50) rotate(-90)" font-size="8.4" text-anchor="middle" font-weight="normal" fill="#1a1a1a" stroke="#1a1a1a" stroke-width="0.22" textLength="10" lengthAdjust="spacingAndGlyphs" >CT</text>
<text transform="translate(382.80,140.35) rotate(-90)" font-size="8.4" text-anchor="middle" font-weight="normal" fill="#1a1a1a" stroke="#1a1a1a" stroke-width="0.22" textLength="15" lengthAdjust="spacingAndGlyphs" >ARA</text>
<line x1="495.20" y1="63.50" x2="495.20" y2="96.50" stroke="#333" stroke-width="1.35" />
<line x1="493.10" y1="63.50" x2="497.30" y2="63.50" stroke="#222" stroke-width="1.3" />
<line x1="493.10" y1="96.50" x2="497.30" y2="96.50" stroke="#222" stroke-width="1.3" />
<text transform="translate(499.60,80.00) rotate(-90)" font-size="4.6" text-anchor="middle" font-weight="normal" fill="#333" stroke="#333" stroke-width="0.22" >NS</text>
<line x1="501.00" y1="63.50" x2="501.00" y2="126.80" stroke="#333" stroke-width="1.35" />
<line x1="498.90" y1="63.50" x2="503.10" y2="63.50" stroke="#222" stroke-width="1.3" />
<line x1="498.90" y1="126.80" x2="503.10" y2="126.80" stroke="#222" stroke-width="1.3" />
<text transform="translate(505.40,95.15) rotate(-90)" font-size="4.6" text-anchor="middle" font-weight="normal" fill="#333" stroke="#333" stroke-width="0.22" >NS</text>
<line x1="506.90" y1="63.50" x2="506.90" y2="157.50" stroke="#333" stroke-width="1.35" />
<line x1="504.80" y1="63.50" x2="509.00" y2="63.50" stroke="#222" stroke-width="1.3" />
<line x1="504.80" y1="157.50" x2="509.00" y2="157.50" stroke="#222" stroke-width="1.3" />
<text x="510.40" y="110.50" font-size="8" font-weight="bold" text-anchor="middle" fill="#222">*</text>
<text x="510.40" y="114.10" font-size="8" font-weight="bold" text-anchor="middle" fill="#222">*</text>
<text x="510.40" y="117.70" font-size="8" font-weight="bold" text-anchor="middle" fill="#222">*</text>
<line x1="495.20" y1="129.30" x2="495.20" y2="157.50" stroke="#333" stroke-width="1.35" />
<line x1="493.10" y1="129.30" x2="497.30" y2="129.30" stroke="#222" stroke-width="1.3" />
<line x1="493.10" y1="157.50" x2="497.30" y2="157.50" stroke="#222" stroke-width="1.3" />
<text x="499.00" y="145.20" font-size="8" font-weight="bold" text-anchor="middle" fill="#222">*</text>
<text x="499.00" y="148.80" font-size="8" font-weight="bold" text-anchor="middle" fill="#222">*</text>
<line x1="62.40" y1="286.48" x2="62.40" y2="285.69" stroke="#111" stroke-width="1.2" />
<line x1="58.70" y1="285.69" x2="66.10" y2="285.69" stroke="#111" stroke-width="1.2" />
<rect x="54.80" y="286.48" width="15.20" height="62.42" fill="#c2c2c2" />
<line x1="62.40" y1="348.90" x2="62.40" y2="351.50" stroke="#111" stroke-width="0.9" />
<line x1="84.95" y1="308.40" x2="84.95" y2="302.09" stroke="#111" stroke-width="1.2" />
<line x1="81.25" y1="302.09" x2="88.65" y2="302.09" stroke="#111" stroke-width="1.2" />
<rect x="77.40" y="308.40" width="15.10" height="40.50" fill="#000" />
<line x1="84.95" y1="348.90" x2="84.95" y2="351.50" stroke="#111" stroke-width="0.9" />
<line x1="107.50" y1="291.13" x2="107.50" y2="285.82" stroke="#111" stroke-width="1.2" />
<line x1="103.80" y1="285.82" x2="111.20" y2="285.82" stroke="#111" stroke-width="1.2" />
<rect x="99.90" y="291.13" width="15.20" height="57.77" fill="#808080" />
<line x1="107.50" y1="348.90" x2="107.50" y2="351.50" stroke="#111" stroke-width="0.9" />
<line x1="129.45" y1="289.47" x2="129.45" y2="288.14" stroke="#111" stroke-width="1.2" />
<line x1="125.75" y1="288.14" x2="133.15" y2="288.14" stroke="#111" stroke-width="1.2" />
<rect x="122.00" y="289.47" width="14.90" height="59.43" fill="#3d3d3d" />
<line x1="129.45" y1="348.90" x2="129.45" y2="351.50" stroke="#111" stroke-width="0.9" />
<line x1="51.60" y1="275.90" x2="51.60" y2="348.90" stroke="#111" stroke-width="1.1" />
<line x1="51.10" y1="348.90" x2="140.00" y2="348.90" stroke="#111" stroke-width="1.2" />
<line x1="48.60" y1="348.90" x2="51.60" y2="348.90" stroke="#111" stroke-width="0.9" />
<text transform="translate(45.40,351.30) scale(0.92,1)" font-size="6.8" text-anchor="end" font-weight="normal" fill="#1a1a1a" stroke="#1a1a1a" stroke-width="0.22" >0</text>
<line x1="48.60" y1="315.70" x2="51.60" y2="315.70" stroke="#111" stroke-width="0.9" />
<text transform="translate(45.40,318.10) scale(0.92,1)" font-size="6.8" text-anchor="end" font-weight="normal" fill="#1a1a1a" stroke="#1a1a1a" stroke-width="0.22" >50</text>
<line x1="48.60" y1="282.50" x2="51.60" y2="282.50" stroke="#111" stroke-width="0.9" />
<text transform="translate(45.40,284.90) scale(0.92,1)" font-size="6.8" text-anchor="end" font-weight="normal" fill="#1a1a1a" stroke="#1a1a1a" stroke-width="0.22" >100</text>
<text transform="translate(62.40,361.00) scale(0.95,1)" font-size="6.7" text-anchor="middle" font-weight="normal" fill="#1a1a1a" stroke="#1a1a1a" stroke-width="0.22" >CT</text>
<text transform="translate(85.00,361.00) scale(0.95,1)" font-size="6.7" text-anchor="middle" font-weight="normal" fill="#1a1a1a" stroke="#1a1a1a" stroke-width="0.22" >ARA</text>
<text transform="translate(107.50,361.00) scale(0.95,1)" font-size="6.7" text-anchor="middle" font-weight="normal" fill="#1a1a1a" stroke="#1a1a1a" stroke-width="0.22" >CT</text>
<text transform="translate(129.50,361.00) scale(0.95,1)" font-size="6.7" text-anchor="middle" font-weight="normal" fill="#1a1a1a" stroke="#1a1a1a" stroke-width="0.22" >ARA</text>
<line x1="54.80" y1="364.60" x2="92.50" y2="364.60" stroke="#111" stroke-width="1.3" />
<line x1="99.90" y1="364.60" x2="136.90" y2="364.60" stroke="#111" stroke-width="1.3" />
<text transform="translate(73.80,376.20)" font-size="9.2" text-anchor="middle" font-weight="normal" fill="#1a1a1a" stroke="#1a1a1a" stroke-width="0.22" textLength="31" lengthAdjust="spacingAndGlyphs" >mCherry-</text>
<text transform="translate(117.80,376.20)" font-size="9.2" text-anchor="middle" font-weight="normal" fill="#1a1a1a" stroke="#1a1a1a" stroke-width="0.22" textLength="33" lengthAdjust="spacingAndGlyphs" >mCherry+</text>
<text transform="translate(85.00,276.80)" font-size="8" text-anchor="middle" font-weight="normal" fill="#1a1a1a" stroke="#1a1a1a" stroke-width="0.22" >*</text>
<text transform="translate(129.30,273.20)" font-size="5" text-anchor="middle" font-weight="normal" fill="#1a1a1a" stroke="#1a1a1a" stroke-width="0.22" >ns</text>
<text transform="translate(17.80,312.50) rotate(-90)" font-size="8.4" text-anchor="middle" font-weight="normal" fill="#1a1a1a" stroke="#1a1a1a" stroke-width="0.22" textLength="25.5" lengthAdjust="spacingAndGlyphs" >% LIVE</text>
<text transform="translate(29.20,311.50) rotate(-90)" font-size="8.2" text-anchor="middle" font-weight="normal" fill="#1a1a1a" stroke="#1a1a1a" stroke-width="0.22" textLength="72.5" lengthAdjust="spacingAndGlyphs" >(%Annexin-V<tspan dy="-2.4" font-size="5">-</tspan><tspan dy="2.4">/DAPI</tspan><tspan dy="-2.4" font-size="5">-</tspan><tspan dy="2.4">)</tspan></text>
<line x1="197.00" y1="316.30" x2="253.00" y2="316.30" stroke="#222" stroke-width="0.9" />
<polyline points="198.70,279.89 204.65,279.89 210.60,296.44 216.55,312.99 222.50,312.99 228.45,312.99 234.40,312.99 240.35,329.54 246.30,346.09 252.25,346.09" fill="none" stroke="#1c2226" stroke-width="1.3" stroke-linejoin="round" />
<circle cx="198.70" cy="279.89" r="1.75" fill="#fff" stroke="#1c2226" stroke-width="1.15"/>
<circle cx="204.65" cy="279.89" r="1.75" fill="#fff" stroke="#1c2226" stroke-width="1.15"/>
<circle cx="210.60" cy="296.44" r="1.75" fill="#fff" stroke="#1c2226" stroke-width="1.15"/>
<circle cx="216.55" cy="312.99" r="1.75" fill="#fff" stroke="#1c2226" stroke-width="1.15"/>
<circle cx="222.50" cy="312.99" r="1.75" fill="#fff" stroke="#1c2226" stroke-width="1.15"/>
<circle cx="228.45" cy="312.99" r="1.75" fill="#fff" stroke="#1c2226" stroke-width="1.15"/>
<circle cx="234.40" cy="312.99" r="1.75" fill="#fff" stroke="#1c2226" stroke-width="1.15"/>
<circle cx="240.35" cy="329.54" r="1.75" fill="#fff" stroke="#1c2226" stroke-width="1.15"/>
<circle cx="246.30" cy="346.09" r="1.75" fill="#fff" stroke="#1c2226" stroke-width="1.15"/>
<circle cx="252.25" cy="346.09" r="1.75" fill="#fff" stroke="#1c2226" stroke-width="1.15"/>
<polyline points="198.70,283.20 204.65,283.20 210.60,299.75 216.55,316.30 222.50,332.85 228.45,349.40 234.40,349.40 240.35,349.40 246.30,349.40 252.25,349.40" fill="none" stroke="#9c1238" stroke-width="1.8" stroke-linejoin="round" />
<circle cx="198.70" cy="283.20" r="1.55" fill="#9c1238" stroke="#9c1238" stroke-width="0.9"/>
<circle cx="204.65" cy="283.20" r="1.55" fill="#9c1238" stroke="#9c1238" stroke-width="0.9"/>
<circle cx="210.60" cy="299.75" r="1.55" fill="#9c1238" stroke="#9c1238" stroke-width="0.9"/>
<circle cx="216.55" cy="316.30" r="1.55" fill="#9c1238" stroke="#9c1238" stroke-width="0.9"/>
<circle cx="222.50" cy="332.85" r="1.55" fill="#9c1238" stroke="#9c1238" stroke-width="0.9"/>
<circle cx="228.45" cy="349.40" r="1.55" fill="#9c1238" stroke="#9c1238" stroke-width="0.9"/>
<circle cx="234.40" cy="349.40" r="1.55" fill="#9c1238" stroke="#9c1238" stroke-width="0.9"/>
<circle cx="240.35" cy="349.40" r="1.55" fill="#9c1238" stroke="#9c1238" stroke-width="0.9"/>
<circle cx="246.30" cy="349.40" r="1.55" fill="#9c1238" stroke="#9c1238" stroke-width="0.9"/>
<circle cx="252.25" cy="349.40" r="1.55" fill="#9c1238" stroke="#9c1238" stroke-width="0.9"/>
<line x1="197.00" y1="277.50" x2="197.00" y2="349.40" stroke="#111" stroke-width="1.1" />
<line x1="196.50" y1="349.40" x2="254.00" y2="349.40" stroke="#111" stroke-width="1.1" />
<line x1="194.40" y1="349.40" x2="197.00" y2="349.40" stroke="#111" stroke-width="0.9" />
<text transform="translate(193.00,351.80) scale(0.93,1)" font-size="6.9" text-anchor="end" font-weight="normal" fill="#1a1a1a" stroke="#1a1a1a" stroke-width="0.22" >0</text>
<line x1="194.40" y1="316.30" x2="197.00" y2="316.30" stroke="#111" stroke-width="0.9" />
<text transform="translate(193.00,318.70) scale(0.93,1)" font-size="6.9" text-anchor="end" font-weight="normal" fill="#1a1a1a" stroke="#1a1a1a" stroke-width="0.22" >50</text>
<line x1="194.40" y1="283.20" x2="197.00" y2="283.20" stroke="#111" stroke-width="0.9" />
<text transform="translate(193.00,285.60) scale(0.93,1)" font-size="6.9" text-anchor="end" font-weight="normal" fill="#1a1a1a" stroke="#1a1a1a" stroke-width="0.22" >100</text>
<text transform="translate(224.30,268.00)" font-size="8.7" text-anchor="middle" font-weight="bold" fill="#000" stroke="#000" stroke-width="0.15" >Kasumi-1</text>
<text transform="translate(203.00,361.50) scale(0.93,1)" font-size="6.8" text-anchor="middle" font-weight="normal" fill="#1a1a1a" stroke="#1a1a1a" stroke-width="0.22" >0.1</text>
<line x1="203.00" y1="349.40" x2="203.00" y2="351.60" stroke="#111" stroke-width="0.8" />
<text transform="translate(222.50,361.50) scale(0.93,1)" font-size="6.8" text-anchor="middle" font-weight="normal" fill="#1a1a1a" stroke="#1a1a1a" stroke-width="0.22" >1</text>
<line x1="222.50" y1="349.40" x2="222.50" y2="351.60" stroke="#111" stroke-width="0.8" />
<text transform="translate(242.50,361.50) scale(0.93,1)" font-size="6.8" text-anchor="middle" font-weight="normal" fill="#1a1a1a" stroke="#1a1a1a" stroke-width="0.22" >10</text>
<line x1="242.50" y1="349.40" x2="242.50" y2="351.60" stroke="#111" stroke-width="0.8" />
<line x1="279.60" y1="316.30" x2="334.60" y2="316.30" stroke="#222" stroke-width="0.9" />
<polyline points="282.20,279.89 292.37,279.89 302.54,279.89 312.71,296.44 322.88,346.09 333.05,346.09" fill="none" stroke="#1c2226" stroke-width="1.3" stroke-linejoin="round" />
<rect x="280.45" y="278.14" width="3.5" height="3.5" fill="#fff" stroke="#1c2226" stroke-width="1.15"/>
<rect x="290.62" y="278.14" width="3.5" height="3.5" fill="#fff" stroke="#1c2226" stroke-width="1.15"/>
<rect x="300.79" y="278.14" width="3.5" height="3.5" fill="#fff" stroke="#1c2226" stroke-width="1.15"/>
<rect x="310.96" y="294.69" width="3.5" height="3.5" fill="#fff" stroke="#1c2226" stroke-width="1.15"/>
<rect x="321.13" y="344.34" width="3.5" height="3.5" fill="#fff" stroke="#1c2226" stroke-width="1.15"/>
<rect x="331.30" y="344.34" width="3.5" height="3.5" fill="#fff" stroke="#1c2226" stroke-width="1.15"/>
<polyline points="282.20,283.20 292.37,283.20 302.54,316.30 312.71,349.40 322.88,349.40 333.05,349.40" fill="none" stroke="#9c1238" stroke-width="1.8" stroke-linejoin="round" />
<rect x="280.65" y="281.65" width="3.1" height="3.1" fill="#9c1238" stroke="#9c1238" stroke-width="0.9"/>
<rect x="290.82" y="281.65" width="3.1" height="3.1" fill="#9c1238" stroke="#9c1238" stroke-width="0.9"/>
<rect x="300.99" y="314.75" width="3.1" height="3.1" fill="#9c1238" stroke="#9c1238" stroke-width="0.9"/>
<rect x="311.16" y="347.85" width="3.1" height="3.1" fill="#9c1238" stroke="#9c1238" stroke-width="0.9"/>
<rect x="321.33" y="347.85" width="3.1" height="3.1" fill="#9c1238" stroke="#9c1238" stroke-width="0.9"/>
<rect x="331.50" y="347.85" width="3.1" height="3.1" fill="#9c1238" stroke="#9c1238" stroke-width="0.9"/>
<line x1="279.60" y1="277.50" x2="279.60" y2="349.40" stroke="#111" stroke-width="1.1" />
<line x1="279.10" y1="349.40" x2="335.60" y2="349.40" stroke="#111" stroke-width="1.1" />
<line x1="277.00" y1="349.40" x2="279.60" y2="349.40" stroke="#111" stroke-width="0.9" />
<text transform="translate(275.60,351.80) scale(0.93,1)" font-size="6.9" text-anchor="end" font-weight="normal" fill="#1a1a1a" stroke="#1a1a1a" stroke-width="0.22" >0</text>
<line x1="277.00" y1="316.30" x2="279.60" y2="316.30" stroke="#111" stroke-width="0.9" />
<text transform="translate(275.60,318.70) scale(0.93,1)" font-size="6.9" text-anchor="end" font-weight="normal" fill="#1a1a1a" stroke="#1a1a1a" stroke-width="0.22" >50</text>
<line x1="277.00" y1="283.20" x2="279.60" y2="283.20" stroke="#111" stroke-width="0.9" />
<text transform="translate(275.60,285.60) scale(0.93,1)" font-size="6.9" text-anchor="end" font-weight="normal" fill="#1a1a1a" stroke="#1a1a1a" stroke-width="0.22" >100</text>
<text transform="translate(307.20,268.00)" font-size="8.7" text-anchor="middle" font-weight="bold" fill="#000" stroke="#000" stroke-width="0.15" >MOLM-14</text>
<text transform="translate(290.00,361.50) scale(0.93,1)" font-size="6.8" text-anchor="middle" font-weight="normal" fill="#1a1a1a" stroke="#1a1a1a" stroke-width="0.22" >0.1</text>
<line x1="290.00" y1="349.40" x2="290.00" y2="351.60" stroke="#111" stroke-width="0.8" />
<text transform="translate(323.70,361.50) scale(0.93,1)" font-size="6.8" text-anchor="middle" font-weight="normal" fill="#1a1a1a" stroke="#1a1a1a" stroke-width="0.22" >1</text>
<line x1="323.70" y1="349.40" x2="323.70" y2="351.60" stroke="#111" stroke-width="0.8" />
<line x1="360.80" y1="316.30" x2="417.50" y2="316.30" stroke="#222" stroke-width="0.9" />
<polyline points="364.00,279.89 374.20,279.89 384.40,296.44 394.60,312.99 404.80,312.99 415.00,312.99" fill="none" stroke="#1c2226" stroke-width="1.3" stroke-linejoin="round" />
<circle cx="364.00" cy="279.89" r="1.75" fill="#fff" stroke="#1c2226" stroke-width="1.15"/>
<circle cx="374.20" cy="279.89" r="1.75" fill="#fff" stroke="#1c2226" stroke-width="1.15"/>
<circle cx="384.40" cy="296.44" r="1.75" fill="#fff" stroke="#1c2226" stroke-width="1.15"/>
<circle cx="394.60" cy="312.99" r="1.75" fill="#fff" stroke="#1c2226" stroke-width="1.15"/>
<circle cx="404.80" cy="312.99" r="1.75" fill="#fff" stroke="#1c2226" stroke-width="1.15"/>
<circle cx="415.00" cy="312.99" r="1.75" fill="#fff" stroke="#1c2226" stroke-width="1.15"/>
<polyline points="364.00,283.20 374.20,283.20 384.40,332.85 394.60,332.85 404.80,349.40 415.00,349.40" fill="none" stroke="#9c1238" stroke-width="1.8" stroke-linejoin="round" />
<circle cx="364.00" cy="283.20" r="1.55" fill="#9c1238" stroke="#9c1238" stroke-width="0.9"/>
<circle cx="374.20" cy="283.20" r="1.55" fill="#9c1238" stroke="#9c1238" stroke-width="0.9"/>
<circle cx="384.40" cy="332.85" r="1.55" fill="#9c1238" stroke="#9c1238" stroke-width="0.9"/>
<circle cx="394.60" cy="332.85" r="1.55" fill="#9c1238" stroke="#9c1238" stroke-width="0.9"/>
<circle cx="404.80" cy="349.40" r="1.55" fill="#9c1238" stroke="#9c1238" stroke-width="0.9"/>
<circle cx="415.00" cy="349.40" r="1.55" fill="#9c1238" stroke="#9c1238" stroke-width="0.9"/>
<line x1="360.80" y1="277.50" x2="360.80" y2="349.40" stroke="#111" stroke-width="1.1" />
<line x1="360.30" y1="349.40" x2="418.50" y2="349.40" stroke="#111" stroke-width="1.1" />
<line x1="358.20" y1="349.40" x2="360.80" y2="349.40" stroke="#111" stroke-width="0.9" />
<text transform="translate(356.80,351.80) scale(0.93,1)" font-size="6.9" text-anchor="end" font-weight="normal" fill="#1a1a1a" stroke="#1a1a1a" stroke-width="0.22" >0</text>
<line x1="358.20" y1="316.30" x2="360.80" y2="316.30" stroke="#111" stroke-width="0.9" />
<text transform="translate(356.80,318.70) scale(0.93,1)" font-size="6.9" text-anchor="end" font-weight="normal" fill="#1a1a1a" stroke="#1a1a1a" stroke-width="0.22" >50</text>
<line x1="358.20" y1="283.20" x2="360.80" y2="283.20" stroke="#111" stroke-width="0.9" />
<text transform="translate(356.80,285.60) scale(0.93,1)" font-size="6.9" text-anchor="end" font-weight="normal" fill="#1a1a1a" stroke="#1a1a1a" stroke-width="0.22" >100</text>
<text transform="translate(388.40,268.00)" font-size="8.7" text-anchor="middle" font-weight="bold" fill="#000" stroke="#000" stroke-width="0.15" >U937</text>
<text transform="translate(372.00,361.50) scale(0.93,1)" font-size="6.8" text-anchor="middle" font-weight="normal" fill="#1a1a1a" stroke="#1a1a1a" stroke-width="0.22" >0.1</text>
<line x1="372.00" y1="349.40" x2="372.00" y2="351.60" stroke="#111" stroke-width="0.8" />
<text transform="translate(405.80,361.50) scale(0.93,1)" font-size="6.8" text-anchor="middle" font-weight="normal" fill="#1a1a1a" stroke="#1a1a1a" stroke-width="0.22" >1</text>
<line x1="405.80" y1="349.40" x2="405.80" y2="351.60" stroke="#111" stroke-width="0.8" />
<line x1="443.20" y1="316.30" x2="498.40" y2="316.30" stroke="#222" stroke-width="0.9" />
<polyline points="446.00,279.89 456.00,279.89 466.00,296.44 476.00,329.54 486.00,346.09 496.00,346.09" fill="none" stroke="#1c2226" stroke-width="1.3" stroke-linejoin="round" />
<path d="M446.00,277.64 L448.07,281.42 L443.93,281.42 Z" fill="#fff" stroke="#1c2226" stroke-width="1.15"/>
<path d="M456.00,277.64 L458.07,281.42 L453.93,281.42 Z" fill="#fff" stroke="#1c2226" stroke-width="1.15"/>
<path d="M466.00,294.19 L468.07,297.97 L463.93,297.97 Z" fill="#fff" stroke="#1c2226" stroke-width="1.15"/>
<path d="M476.00,327.29 L478.07,331.07 L473.93,331.07 Z" fill="#fff" stroke="#1c2226" stroke-width="1.15"/>
<path d="M486.00,343.84 L488.07,347.62 L483.93,347.62 Z" fill="#fff" stroke="#1c2226" stroke-width="1.15"/>
<path d="M496.00,343.84 L498.07,347.62 L493.93,347.62 Z" fill="#fff" stroke="#1c2226" stroke-width="1.15"/>
<polyline points="446.00,283.20 456.00,349.40 466.00,349.40 476.00,349.40 486.00,349.40 496.00,349.40" fill="none" stroke="#9c1238" stroke-width="1.8" stroke-linejoin="round" />
<path d="M446.00,281.26 L447.78,284.52 L444.22,284.52 Z" fill="#9c1238" stroke="#9c1238" stroke-width="0.9"/>
<path d="M456.00,347.46 L457.78,350.72 L454.22,350.72 Z" fill="#9c1238" stroke="#9c1238" stroke-width="0.9"/>
<path d="M466.00,347.46 L467.78,350.72 L464.22,350.72 Z" fill="#9c1238" stroke="#9c1238" stroke-width="0.9"/>
<path d="M476.00,347.46 L477.78,350.72 L474.22,350.72 Z" fill="#9c1238" stroke="#9c1238" stroke-width="0.9"/>
<path d="M486.00,347.46 L487.78,350.72 L484.22,350.72 Z" fill="#9c1238" stroke="#9c1238" stroke-width="0.9"/>
<path d="M496.00,347.46 L497.78,350.72 L494.22,350.72 Z" fill="#9c1238" stroke="#9c1238" stroke-width="0.9"/>
<line x1="443.20" y1="277.50" x2="443.20" y2="349.40" stroke="#111" stroke-width="1.1" />
<line x1="442.70" y1="349.40" x2="499.40" y2="349.40" stroke="#111" stroke-width="1.1" />
<line x1="440.60" y1="349.40" x2="443.20" y2="349.40" stroke="#111" stroke-width="0.9" />
<text transform="translate(439.20,351.80) scale(0.93,1)" font-size="6.9" text-anchor="end" font-weight="normal" fill="#1a1a1a" stroke="#1a1a1a" stroke-width="0.22" >0</text>
<line x1="440.60" y1="316.30" x2="443.20" y2="316.30" stroke="#111" stroke-width="0.9" />
<text transform="translate(439.20,318.70) scale(0.93,1)" font-size="6.9" text-anchor="end" font-weight="normal" fill="#1a1a1a" stroke="#1a1a1a" stroke-width="0.22" >50</text>
<line x1="440.60" y1="283.20" x2="443.20" y2="283.20" stroke="#111" stroke-width="0.9" />
<text transform="translate(439.20,285.60) scale(0.93,1)" font-size="6.9" text-anchor="end" font-weight="normal" fill="#1a1a1a" stroke="#1a1a1a" stroke-width="0.22" >100</text>
<text transform="translate(470.30,268.00)" font-size="8.7" text-anchor="middle" font-weight="bold" fill="#000" stroke="#000" stroke-width="0.15" >#C3-1</text>
<text transform="translate(453.60,361.50) scale(0.93,1)" font-size="6.8" text-anchor="middle" font-weight="normal" fill="#1a1a1a" stroke="#1a1a1a" stroke-width="0.22" >0.1</text>
<line x1="453.60" y1="349.40" x2="453.60" y2="351.60" stroke="#111" stroke-width="0.8" />
<text transform="translate(487.40,361.50) scale(0.93,1)" font-size="6.8" text-anchor="middle" font-weight="normal" fill="#1a1a1a" stroke="#1a1a1a" stroke-width="0.22" >1</text>
<line x1="487.40" y1="349.40" x2="487.40" y2="351.60" stroke="#111" stroke-width="0.8" />
<line x1="208.87" y1="349.40" x2="208.87" y2="350.70" stroke="#111" stroke-width="0.5" />
<line x1="212.30" y1="349.40" x2="212.30" y2="350.70" stroke="#111" stroke-width="0.5" />
<line x1="214.74" y1="349.40" x2="214.74" y2="350.70" stroke="#111" stroke-width="0.5" />
<line x1="216.63" y1="349.40" x2="216.63" y2="350.70" stroke="#111" stroke-width="0.5" />
<line x1="218.17" y1="349.40" x2="218.17" y2="350.70" stroke="#111" stroke-width="0.5" />
<line x1="219.48" y1="349.40" x2="219.48" y2="350.70" stroke="#111" stroke-width="0.5" />
<line x1="220.61" y1="349.40" x2="220.61" y2="350.70" stroke="#111" stroke-width="0.5" />
<line x1="221.61" y1="349.40" x2="221.61" y2="350.70" stroke="#111" stroke-width="0.5" />
<line x1="228.52" y1="349.40" x2="228.52" y2="350.70" stroke="#111" stroke-width="0.5" />
<line x1="232.04" y1="349.40" x2="232.04" y2="350.70" stroke="#111" stroke-width="0.5" />
<line x1="234.54" y1="349.40" x2="234.54" y2="350.70" stroke="#111" stroke-width="0.5" />
<line x1="236.48" y1="349.40" x2="236.48" y2="350.70" stroke="#111" stroke-width="0.5" />
<line x1="238.06" y1="349.40" x2="238.06" y2="350.70" stroke="#111" stroke-width="0.5" />
<line x1="239.40" y1="349.40" x2="239.40" y2="350.70" stroke="#111" stroke-width="0.5" />
<line x1="240.56" y1="349.40" x2="240.56" y2="350.70" stroke="#111" stroke-width="0.5" />
<line x1="241.58" y1="349.40" x2="241.58" y2="350.70" stroke="#111" stroke-width="0.5" />
<line x1="300.14" y1="349.40" x2="300.14" y2="350.70" stroke="#111" stroke-width="0.5" />
<line x1="306.08" y1="349.40" x2="306.08" y2="350.70" stroke="#111" stroke-width="0.5" />
<line x1="310.29" y1="349.40" x2="310.29" y2="350.70" stroke="#111" stroke-width="0.5" />
<line x1="313.56" y1="349.40" x2="313.56" y2="350.70" stroke="#111" stroke-width="0.5" />
<line x1="316.22" y1="349.40" x2="316.22" y2="350.70" stroke="#111" stroke-width="0.5" />
<line x1="318.48" y1="349.40" x2="318.48" y2="350.70" stroke="#111" stroke-width="0.5" />
<line x1="320.43" y1="349.40" x2="320.43" y2="350.70" stroke="#111" stroke-width="0.5" />
<line x1="322.16" y1="349.40" x2="322.16" y2="350.70" stroke="#111" stroke-width="0.5" />
<line x1="382.17" y1="349.40" x2="382.17" y2="350.70" stroke="#111" stroke-width="0.5" />
<line x1="388.13" y1="349.40" x2="388.13" y2="350.70" stroke="#111" stroke-width="0.5" />
<line x1="392.35" y1="349.40" x2="392.35" y2="350.70" stroke="#111" stroke-width="0.5" />
<line x1="395.63" y1="349.40" x2="395.63" y2="350.70" stroke="#111" stroke-width="0.5" />
<line x1="398.30" y1="349.40" x2="398.30" y2="350.70" stroke="#111" stroke-width="0.5" />
<line x1="400.56" y1="349.40" x2="400.56" y2="350.70" stroke="#111" stroke-width="0.5" />
<line x1="402.52" y1="349.40" x2="402.52" y2="350.70" stroke="#111" stroke-width="0.5" />
<line x1="404.25" y1="349.40" x2="404.25" y2="350.70" stroke="#111" stroke-width="0.5" />
<line x1="463.77" y1="349.40" x2="463.77" y2="350.70" stroke="#111" stroke-width="0.5" />
<line x1="469.73" y1="349.40" x2="469.73" y2="350.70" stroke="#111" stroke-width="0.5" />
<line x1="473.95" y1="349.40" x2="473.95" y2="350.70" stroke="#111" stroke-width="0.5" />
<line x1="477.23" y1="349.40" x2="477.23" y2="350.70" stroke="#111" stroke-width="0.5" />
<line x1="479.90" y1="349.40" x2="479.90" y2="350.70" stroke="#111" stroke-width="0.5" />
<line x1="482.16" y1="349.40" x2="482.16" y2="350.70" stroke="#111" stroke-width="0.5" />
<line x1="484.12" y1="349.40" x2="484.12" y2="350.70" stroke="#111" stroke-width="0.5" />
<line x1="485.85" y1="349.40" x2="485.85" y2="350.70" stroke="#111" stroke-width="0.5" />
<text transform="translate(174.40,314.00) rotate(-90)" font-size="8.2" text-anchor="middle" font-weight="normal" fill="#1a1a1a" stroke="#1a1a1a" stroke-width="0.22" textLength="41" lengthAdjust="spacingAndGlyphs" >% Regrowth</text>
<text transform="translate(345.50,373.50)" font-size="8.2" text-anchor="middle" font-weight="normal" fill="#1a1a1a" stroke="#1a1a1a" stroke-width="0.22" textLength="34" lengthAdjust="spacingAndGlyphs" >ARA (µM)</text>
<line x1="474.30" y1="282.20" x2="481.00" y2="282.20" stroke="#1c2226" stroke-width="1.1" />
<path d="M477.60,279.70 L479.90,283.90 L475.30,283.90 Z" fill="#fff" stroke="#1c2226" stroke-width="1"/>
<text transform="translate(484.80,284.10)" font-size="5.3" text-anchor="start" font-weight="normal" fill="#777" stroke="#777" stroke-width="0.22" >CC MS5</text>
<line x1="474.30" y1="298.20" x2="481.00" y2="298.20" stroke="#9c1238" stroke-width="1.4" />
<path d="M477.60,296.20 L479.44,299.56 L475.76,299.56 Z" fill="#9c1238" stroke="#9c1238" stroke-width="1"/>
<text transform="translate(484.80,300.10)" font-size="5.3" text-anchor="start" font-weight="normal" fill="#9c1238" stroke="#9c1238" stroke-width="0.22" >CC</text>
<text transform="translate(484.80,306.60)" font-size="5.3" text-anchor="start" font-weight="normal" fill="#9c1238" stroke="#9c1238" stroke-width="0.22" >ρ0 MS5</text>
<rect x="66.10" y="437.11" width="4.90" height="69.19" fill="#a6a6a6" />
<rect x="73.10" y="423.09" width="4.80" height="83.21" fill="#2b2b2b" />
<line x1="72.10" y1="506.30" x2="72.10" y2="509.70" stroke="#111" stroke-width="0.9" />
<rect x="83.60" y="459.55" width="4.90" height="46.75" fill="#a6a6a6" />
<rect x="90.60" y="421.22" width="4.80" height="85.08" fill="#2b2b2b" />
<line x1="89.60" y1="506.30" x2="89.60" y2="509.70" stroke="#111" stroke-width="0.9" />
<rect x="101.20" y="496.01" width="4.90" height="10.29" fill="#a6a6a6" />
<rect x="108.20" y="457.68" width="4.80" height="48.62" fill="#2b2b2b" />
<line x1="107.20" y1="506.30" x2="107.20" y2="509.70" stroke="#111" stroke-width="0.9" />
<rect x="118.80" y="502.09" width="4.90" height="4.21" fill="#a6a6a6" />
<rect x="125.80" y="456.28" width="4.80" height="50.02" fill="#2b2b2b" />
<line x1="124.80" y1="506.30" x2="124.80" y2="509.70" stroke="#111" stroke-width="0.9" />
<rect x="154.50" y="448.33" width="4.90" height="57.97" fill="#a6a6a6" />
<rect x="161.50" y="424.96" width="4.80" height="81.34" fill="#2b2b2b" />
<line x1="160.50" y1="506.30" x2="160.50" y2="509.70" stroke="#111" stroke-width="0.9" />
<rect x="172.10" y="453.00" width="4.90" height="53.30" fill="#a6a6a6" />
<rect x="179.10" y="432.44" width="4.80" height="73.87" fill="#2b2b2b" />
<line x1="178.10" y1="506.30" x2="178.10" y2="509.70" stroke="#111" stroke-width="0.9" />
<rect x="189.60" y="478.25" width="4.90" height="28.05" fill="#a6a6a6" />
<rect x="196.60" y="468.90" width="4.80" height="37.40" fill="#2b2b2b" />
<line x1="195.60" y1="506.30" x2="195.60" y2="509.70" stroke="#111" stroke-width="0.9" />
<rect x="207.20" y="479.19" width="4.90" height="27.12" fill="#a6a6a6" />
<rect x="214.20" y="469.84" width="4.80" height="36.46" fill="#2b2b2b" />
<line x1="213.20" y1="506.30" x2="213.20" y2="509.70" stroke="#111" stroke-width="0.9" />
<line x1="143.20" y1="506.30" x2="143.20" y2="509.70" stroke="#111" stroke-width="0.9" />
<line x1="63.00" y1="410.50" x2="63.00" y2="506.30" stroke="#111" stroke-width="1.1" />
<line x1="62.50" y1="506.30" x2="222.00" y2="506.30" stroke="#111" stroke-width="1.2" />
<line x1="59.20" y1="506.30" x2="63.00" y2="506.30" stroke="#111" stroke-width="0.9" />
<text transform="translate(56.60,508.70) scale(0.92,1)" font-size="6.9" text-anchor="end" font-weight="normal" fill="#1a1a1a" stroke="#1a1a1a" stroke-width="0.22" >0</text>
<line x1="59.20" y1="487.60" x2="63.00" y2="487.60" stroke="#111" stroke-width="0.9" />
<text transform="translate(56.60,490.00) scale(0.92,1)" font-size="6.9" text-anchor="end" font-weight="normal" fill="#1a1a1a" stroke="#1a1a1a" stroke-width="0.22" >20</text>
<line x1="59.20" y1="468.90" x2="63.00" y2="468.90" stroke="#111" stroke-width="0.9" />
<text transform="translate(56.60,471.30) scale(0.92,1)" font-size="6.9" text-anchor="end" font-weight="normal" fill="#1a1a1a" stroke="#1a1a1a" stroke-width="0.22" >40</text>
<line x1="59.20" y1="450.20" x2="63.00" y2="450.20" stroke="#111" stroke-width="0.9" />
<text transform="translate(56.60,452.60) scale(0.92,1)" font-size="6.9" text-anchor="end" font-weight="normal" fill="#1a1a1a" stroke="#1a1a1a" stroke-width="0.22" >60</text>
<line x1="59.20" y1="431.50" x2="63.00" y2="431.50" stroke="#111" stroke-width="0.9" />
<text transform="translate(56.60,433.90) scale(0.92,1)" font-size="6.9" text-anchor="end" font-weight="normal" fill="#1a1a1a" stroke="#1a1a1a" stroke-width="0.22" >80</text>
<line x1="59.20" y1="412.80" x2="63.00" y2="412.80" stroke="#111" stroke-width="0.9" />
<text transform="translate(56.60,415.20) scale(0.92,1)" font-size="6.9" text-anchor="end" font-weight="normal" fill="#1a1a1a" stroke="#1a1a1a" stroke-width="0.22" >100</text>
<text transform="translate(72.10,518.10)" font-size="6.2" text-anchor="middle" font-weight="normal" fill="#1a1a1a" stroke="#1a1a1a" stroke-width="0.22" >−</text>
<text transform="translate(89.60,518.10)" font-size="6.2" text-anchor="middle" font-weight="normal" fill="#1a1a1a" stroke="#1a1a1a" stroke-width="0.22" >+</text>
<text transform="translate(107.20,518.10)" font-size="6.2" text-anchor="middle" font-weight="normal" fill="#1a1a1a" stroke="#1a1a1a" stroke-width="0.22" >−</text>
<text transform="translate(124.80,518.10)" font-size="6.2" text-anchor="middle" font-weight="normal" fill="#1a1a1a" stroke="#1a1a1a" stroke-width="0.22" >+</text>
<text transform="translate(160.50,518.10)" font-size="6.2" text-anchor="middle" font-weight="normal" fill="#1a1a1a" stroke="#1a1a1a" stroke-width="0.22" >−</text>
<text transform="translate(178.10,518.10)" font-size="6.2" text-anchor="middle" font-weight="normal" fill="#1a1a1a" stroke="#1a1a1a" stroke-width="0.22" >+</text>
<text transform="translate(195.60,518.10)" font-size="6.2" text-anchor="middle" font-weight="normal" fill="#1a1a1a" stroke="#1a1a1a" stroke-width="0.22" >−</text>
<text transform="translate(213.20,518.10)" font-size="6.2" text-anchor="middle" font-weight="normal" fill="#1a1a1a" stroke="#1a1a1a" stroke-width="0.22" >+</text>
<text transform="translate(235.60,519.00)" font-size="6.8" text-anchor="middle" font-weight="normal" fill="#1a1a1a" stroke="#1a1a1a" stroke-width="0.22" textLength="13" lengthAdjust="spacingAndGlyphs" >ARA</text>
<line x1="65.90" y1="522.90" x2="95.20" y2="522.90" stroke="#111" stroke-width="1.45" />
<line x1="101.60" y1="522.90" x2="131.00" y2="522.90" stroke="#111" stroke-width="1.45" />
<line x1="154.90" y1="522.90" x2="183.60" y2="522.90" stroke="#111" stroke-width="1.45" />
<line x1="190.00" y1="522.90" x2="219.30" y2="522.90" stroke="#111" stroke-width="1.45" />
<text transform="translate(80.50,532.00)" font-size="6.4" text-anchor="middle" font-weight="normal" fill="#1a1a1a" stroke="#1a1a1a" stroke-width="0.22" textLength="10" lengthAdjust="spacingAndGlyphs" >LIC</text>
<text transform="translate(116.60,532.00)" font-size="6.4" text-anchor="middle" font-weight="normal" fill="#1a1a1a" stroke="#1a1a1a" stroke-width="0.22" textLength="21.5" lengthAdjust="spacingAndGlyphs" >NO LIC</text>
<text transform="translate(169.20,532.00)" font-size="6.4" text-anchor="middle" font-weight="normal" fill="#1a1a1a" stroke="#1a1a1a" stroke-width="0.22" textLength="10" lengthAdjust="spacingAndGlyphs" >LIC</text>
<text transform="translate(204.90,532.00)" font-size="6.4" text-anchor="middle" font-weight="normal" fill="#1a1a1a" stroke="#1a1a1a" stroke-width="0.22" textLength="21.5" lengthAdjust="spacingAndGlyphs" >NO LIC</text>
<text transform="translate(98.20,543.90)" font-size="8.8" text-anchor="middle" font-weight="normal" fill="#1a1a1a" stroke="#1a1a1a" stroke-width="0.22" textLength="20.5" lengthAdjust="spacingAndGlyphs" >#C3-1</text>
<text transform="translate(187.20,543.80)" font-size="8.8" text-anchor="middle" font-weight="normal" fill="#1a1a1a" stroke="#1a1a1a" stroke-width="0.22" textLength="21.5" lengthAdjust="spacingAndGlyphs" >#3315</text>
<rect x="194.40" y="412.80" width="8.00" height="5.60" fill="#a6a6a6" />
<text transform="translate(206.20,417.60)" font-size="5.3" text-anchor="start" font-weight="normal" fill="#1a1a1a" stroke="#1a1a1a" stroke-width="0.22" >MT neg-low</text>
<rect x="194.40" y="425.00" width="8.00" height="5.60" fill="#2b2b2b" />
<text transform="translate(206.20,429.80)" font-size="5.3" text-anchor="start" font-weight="normal" fill="#1a1a1a" stroke="#1a1a1a" stroke-width="0.22" >MT mid-high</text>
<text transform="translate(29.90,458.40) rotate(-90)" font-size="8.2" text-anchor="middle" font-weight="normal" fill="#1a1a1a" stroke="#1a1a1a" stroke-width="0.22" textLength="24.5" lengthAdjust="spacingAndGlyphs" >% LIVE</text>
<text transform="translate(40.20,458.50) rotate(-90)" font-size="8.0" text-anchor="middle" font-weight="normal" fill="#1a1a1a" stroke="#1a1a1a" stroke-width="0.22" textLength="73" lengthAdjust="spacingAndGlyphs" >(%Annexin-V<tspan dy="-2.4" font-size="5">-</tspan><tspan dy="2.4">/DAPI</tspan><tspan dy="-2.4" font-size="5">-</tspan><tspan dy="2.4">)</tspan></text>
<line x1="300.20" y1="422.50" x2="300.20" y2="536.30" stroke="#111" stroke-width="1.1" />
<line x1="299.70" y1="536.30" x2="421.50" y2="536.30" stroke="#111" stroke-width="1.1" />
<line x1="297.20" y1="536.40" x2="300.20" y2="536.40" stroke="#111" stroke-width="0.9" />
<text transform="translate(294.80,538.60) scale(0.9,1)" font-size="6.4" text-anchor="end" font-weight="normal" fill="#1a1a1a" stroke="#1a1a1a" stroke-width="0.22" >10<tspan dy="-2.2" font-size="0.68em">-5</tspan></text>
<line x1="298.60" y1="527.94" x2="300.20" y2="527.94" stroke="#111" stroke-width="0.5" />
<line x1="298.60" y1="522.99" x2="300.20" y2="522.99" stroke="#111" stroke-width="0.5" />
<line x1="298.60" y1="519.48" x2="300.20" y2="519.48" stroke="#111" stroke-width="0.5" />
<line x1="298.60" y1="516.76" x2="300.20" y2="516.76" stroke="#111" stroke-width="0.5" />
<line x1="298.60" y1="514.53" x2="300.20" y2="514.53" stroke="#111" stroke-width="0.5" />
<line x1="298.60" y1="512.65" x2="300.20" y2="512.65" stroke="#111" stroke-width="0.5" />
<line x1="298.60" y1="511.02" x2="300.20" y2="511.02" stroke="#111" stroke-width="0.5" />
<line x1="298.60" y1="509.59" x2="300.20" y2="509.59" stroke="#111" stroke-width="0.5" />
<line x1="297.20" y1="508.30" x2="300.20" y2="508.30" stroke="#111" stroke-width="0.9" />
<text transform="translate(294.80,510.50) scale(0.9,1)" font-size="6.4" text-anchor="end" font-weight="normal" fill="#1a1a1a" stroke="#1a1a1a" stroke-width="0.22" >10<tspan dy="-2.2" font-size="0.68em">-4</tspan></text>
<line x1="298.60" y1="499.84" x2="300.20" y2="499.84" stroke="#111" stroke-width="0.5" />
<line x1="298.60" y1="494.89" x2="300.20" y2="494.89" stroke="#111" stroke-width="0.5" />
<line x1="298.60" y1="491.38" x2="300.20" y2="491.38" stroke="#111" stroke-width="0.5" />
<line x1="298.60" y1="488.66" x2="300.20" y2="488.66" stroke="#111" stroke-width="0.5" />
<line x1="298.60" y1="486.43" x2="300.20" y2="486.43" stroke="#111" stroke-width="0.5" />
<line x1="298.60" y1="484.55" x2="300.20" y2="484.55" stroke="#111" stroke-width="0.5" />
<line x1="298.60" y1="482.92" x2="300.20" y2="482.92" stroke="#111" stroke-width="0.5" />
<line x1="298.60" y1="481.49" x2="300.20" y2="481.49" stroke="#111" stroke-width="0.5" />
<line x1="297.20" y1="480.20" x2="300.20" y2="480.20" stroke="#111" stroke-width="0.9" />
<text transform="translate(294.80,482.40) scale(0.9,1)" font-size="6.4" text-anchor="end" font-weight="normal" fill="#1a1a1a" stroke="#1a1a1a" stroke-width="0.22" >10<tspan dy="-2.2" font-size="0.68em">-3</tspan></text>
<line x1="298.60" y1="471.74" x2="300.20" y2="471.74" stroke="#111" stroke-width="0.5" />
<line x1="298.60" y1="466.79" x2="300.20" y2="466.79" stroke="#111" stroke-width="0.5" />
<line x1="298.60" y1="463.28" x2="300.20" y2="463.28" stroke="#111" stroke-width="0.5" />
<line x1="298.60" y1="460.56" x2="300.20" y2="460.56" stroke="#111" stroke-width="0.5" />
<line x1="298.60" y1="458.33" x2="300.20" y2="458.33" stroke="#111" stroke-width="0.5" />
<line x1="298.60" y1="456.45" x2="300.20" y2="456.45" stroke="#111" stroke-width="0.5" />
<line x1="298.60" y1="454.82" x2="300.20" y2="454.82" stroke="#111" stroke-width="0.5" />
<line x1="298.60" y1="453.39" x2="300.20" y2="453.39" stroke="#111" stroke-width="0.5" />
<line x1="297.20" y1="452.10" x2="300.20" y2="452.10" stroke="#111" stroke-width="0.9" />
<text transform="translate(294.80,454.30) scale(0.9,1)" font-size="6.4" text-anchor="end" font-weight="normal" fill="#1a1a1a" stroke="#1a1a1a" stroke-width="0.22" >10<tspan dy="-2.2" font-size="0.68em">-2</tspan></text>
<line x1="298.60" y1="443.64" x2="300.20" y2="443.64" stroke="#111" stroke-width="0.5" />
<line x1="298.60" y1="438.69" x2="300.20" y2="438.69" stroke="#111" stroke-width="0.5" />
<line x1="298.60" y1="435.18" x2="300.20" y2="435.18" stroke="#111" stroke-width="0.5" />
<line x1="298.60" y1="432.46" x2="300.20" y2="432.46" stroke="#111" stroke-width="0.5" />
<line x1="298.60" y1="430.23" x2="300.20" y2="430.23" stroke="#111" stroke-width="0.5" />
<line x1="298.60" y1="428.35" x2="300.20" y2="428.35" stroke="#111" stroke-width="0.5" />
<line x1="298.60" y1="426.72" x2="300.20" y2="426.72" stroke="#111" stroke-width="0.5" />
<line x1="298.60" y1="425.29" x2="300.20" y2="425.29" stroke="#111" stroke-width="0.5" />
<line x1="297.20" y1="424.00" x2="300.20" y2="424.00" stroke="#111" stroke-width="0.9" />
<text transform="translate(294.80,426.20) scale(0.9,1)" font-size="6.4" text-anchor="end" font-weight="normal" fill="#1a1a1a" stroke="#1a1a1a" stroke-width="0.22" >10<tspan dy="-2.2" font-size="0.68em">-1</tspan></text>
<line x1="315.50" y1="481.20" x2="346.00" y2="467.70" stroke="#000" stroke-width="1.6" />
<line x1="315.50" y1="498.70" x2="346.00" y2="438.80" stroke="#000" stroke-width="1.6" />
<line x1="315.50" y1="502.00" x2="346.00" y2="454.40" stroke="#000" stroke-width="1.6" />
<line x1="315.50" y1="530.00" x2="346.00" y2="449.80" stroke="#000" stroke-width="1.6" />
<line x1="376.00" y1="458.20" x2="406.30" y2="448.80" stroke="#000" stroke-width="1.6" />
<line x1="376.00" y1="476.30" x2="406.30" y2="462.00" stroke="#000" stroke-width="1.6" />
<line x1="376.00" y1="516.30" x2="406.30" y2="467.60" stroke="#000" stroke-width="1.6" />
<line x1="376.00" y1="512.00" x2="406.30" y2="464.80" stroke="#000" stroke-width="1.6" />
<path d="M315.50,478.20 L318.30,483.30 L312.70,483.30 Z" fill="#fff" stroke="#000" stroke-width="1.1"/>
<path d="M346.00,464.70 L348.80,469.80 L343.20,469.80 Z" fill="#000" stroke="#000" stroke-width="1.1"/>
<circle cx="315.50" cy="498.70" r="2.35" fill="#fff" stroke="#000" stroke-width="1.1"/>
<circle cx="346.00" cy="438.80" r="2.35" fill="#000" stroke="#000" stroke-width="1.1"/>
<path d="M315.50,499.00 L318.10,502.00 L315.50,505.00 L312.90,502.00 Z" fill="#fff" stroke="#000" stroke-width="1.1"/>
<path d="M346.00,451.40 L348.60,454.40 L346.00,457.40 L343.40,454.40 Z" fill="#000" stroke="#000" stroke-width="1.1"/>
<polygon points="318.10,530.00 316.80,532.25 314.20,532.25 312.90,530.00 314.20,527.75 316.80,527.75" fill="#fff" stroke="#000" stroke-width="1.1"/>
<polygon points="348.60,449.80 347.30,452.05 344.70,452.05 343.40,449.80 344.70,447.55 347.30,447.55" fill="#000" stroke="#000" stroke-width="1.1"/>
<path d="M376.00,455.20 L378.80,460.30 L373.20,460.30 Z" fill="#fff" stroke="#000" stroke-width="1.1"/>
<path d="M406.30,445.80 L409.10,450.90 L403.50,450.90 Z" fill="#000" stroke="#000" stroke-width="1.1"/>
<circle cx="376.00" cy="476.30" r="2.35" fill="#fff" stroke="#000" stroke-width="1.1"/>
<circle cx="406.30" cy="462.00" r="2.35" fill="#000" stroke="#000" stroke-width="1.1"/>
<polygon points="378.60,516.30 377.30,518.55 374.70,518.55 373.40,516.30 374.70,514.05 377.30,514.05" fill="#fff" stroke="#000" stroke-width="1.1"/>
<polygon points="408.90,467.60 407.60,469.85 405.00,469.85 403.70,467.60 405.00,465.35 407.60,465.35" fill="#000" stroke="#000" stroke-width="1.1"/>
<path d="M376.00,509.00 L378.60,512.00 L376.00,515.00 L373.40,512.00 Z" fill="#fff" stroke="#000" stroke-width="1.1"/>
<path d="M406.30,461.80 L408.90,464.80 L406.30,467.80 L403.70,464.80 Z" fill="#000" stroke="#000" stroke-width="1.1"/>
<text transform="translate(346.00,433.20)" font-size="8" text-anchor="middle" font-weight="normal" fill="#1a1a1a" stroke="#1a1a1a" stroke-width="0.22" >*</text>
<text transform="translate(406.30,432.60)" font-size="8" text-anchor="middle" font-weight="normal" fill="#1a1a1a" stroke="#1a1a1a" stroke-width="0.22" >*</text>
<path d="M303.40,410.30 L306.48,415.91 L300.32,415.91 Z" fill="#fff" stroke="#000" stroke-width="1.4"/>
<text transform="translate(308.80,414.70)" font-size="5.1" text-anchor="start" font-weight="normal" fill="#1a1a1a" stroke="#1a1a1a" stroke-width="0.22" >#C3-1</text>
<circle cx="334.50" cy="413.20" r="2.63" fill="#fff" stroke="#000" stroke-width="1.4"/>
<text transform="translate(340.20,414.70)" font-size="5.1" text-anchor="start" font-weight="normal" fill="#1a1a1a" stroke="#1a1a1a" stroke-width="0.22" >#C3-2</text>
<path d="M366.60,409.55 L369.59,413.00 L366.60,416.45 L363.61,413.00 Z" fill="#fff" stroke="#000" stroke-width="1.4"/>
<text transform="translate(373.20,414.70)" font-size="5.1" text-anchor="start" font-weight="normal" fill="#1a1a1a" stroke="#1a1a1a" stroke-width="0.22" >#C3-4</text>
<polygon points="402.65,412.80 401.02,415.61 397.77,415.61 396.15,412.80 397.77,409.99 401.02,409.99" fill="#fff" stroke="#000" stroke-width="1.4"/>
<text transform="translate(406.30,414.70)" font-size="5.1" text-anchor="start" font-weight="normal" fill="#1a1a1a" stroke="#1a1a1a" stroke-width="0.22" >#5957</text>
<line x1="315.50" y1="536.30" x2="315.50" y2="538.60" stroke="#111" stroke-width="0.8" />
<text transform="translate(315.50,549.00)" font-size="6.6" text-anchor="middle" font-weight="normal" fill="#1a1a1a" stroke="#1a1a1a" stroke-width="0.22" textLength="8.4" lengthAdjust="spacingAndGlyphs" >MT</text>
<text transform="translate(315.50,557.00)" font-size="6.6" text-anchor="middle" font-weight="normal" fill="#1a1a1a" stroke="#1a1a1a" stroke-width="0.22" textLength="21.5" lengthAdjust="spacingAndGlyphs" >neg-low</text>
<line x1="346.00" y1="536.30" x2="346.00" y2="538.60" stroke="#111" stroke-width="0.8" />
<text transform="translate(346.00,549.00)" font-size="6.6" text-anchor="middle" font-weight="normal" fill="#1a1a1a" stroke="#1a1a1a" stroke-width="0.22" textLength="8.4" lengthAdjust="spacingAndGlyphs" >MT</text>
<text transform="translate(346.00,557.00)" font-size="6.6" text-anchor="middle" font-weight="normal" fill="#1a1a1a" stroke="#1a1a1a" stroke-width="0.22" textLength="24" lengthAdjust="spacingAndGlyphs" >mid-high</text>
<line x1="376.00" y1="536.30" x2="376.00" y2="538.60" stroke="#111" stroke-width="0.8" />
<text transform="translate(376.00,549.00)" font-size="6.6" text-anchor="middle" font-weight="normal" fill="#1a1a1a" stroke="#1a1a1a" stroke-width="0.22" textLength="8.4" lengthAdjust="spacingAndGlyphs" >MT</text>
<text transform="translate(376.00,557.00)" font-size="6.6" text-anchor="middle" font-weight="normal" fill="#1a1a1a" stroke="#1a1a1a" stroke-width="0.22" textLength="21.5" lengthAdjust="spacingAndGlyphs" >neg-low</text>
<line x1="406.30" y1="536.30" x2="406.30" y2="538.60" stroke="#111" stroke-width="0.8" />
<text transform="translate(406.30,549.00)" font-size="6.6" text-anchor="middle" font-weight="normal" fill="#1a1a1a" stroke="#1a1a1a" stroke-width="0.22" textLength="8.4" lengthAdjust="spacingAndGlyphs" >MT</text>
<text transform="translate(406.30,557.00)" font-size="6.6" text-anchor="middle" font-weight="normal" fill="#1a1a1a" stroke="#1a1a1a" stroke-width="0.22" textLength="24" lengthAdjust="spacingAndGlyphs" >mid-high</text>
<line x1="302.00" y1="561.60" x2="358.50" y2="561.60" stroke="#111" stroke-width="1.4" />
<line x1="363.00" y1="561.60" x2="420.00" y2="561.60" stroke="#111" stroke-width="1.4" />
<text transform="translate(334.80,572.00)" font-size="8.4" text-anchor="middle" font-weight="normal" fill="#1a1a1a" stroke="#1a1a1a" stroke-width="0.22" textLength="10" lengthAdjust="spacingAndGlyphs" >CT</text>
<text transform="translate(397.00,572.00)" font-size="8.4" text-anchor="middle" font-weight="normal" fill="#1a1a1a" stroke="#1a1a1a" stroke-width="0.22" textLength="15.5" lengthAdjust="spacingAndGlyphs" >ARA</text>
<text transform="translate(276.80,480.00) rotate(-90)" font-size="8.0" text-anchor="middle" font-weight="normal" fill="#1a1a1a" stroke="#1a1a1a" stroke-width="0.22" textLength="66" lengthAdjust="spacingAndGlyphs" >L-LTC-IC frequency</text>
</g>
<rect x="0" y="0" width="520" height="1.05" fill="#111"/>
<rect x="0" y="0" width="1.0" height="581" fill="#111"/>
<rect x="518.85" y="0" width="1.15" height="581" fill="#111"/>
<rect x="0" y="579.7" width="520" height="1.3" fill="#111"/>
</svg>
</body></html>
